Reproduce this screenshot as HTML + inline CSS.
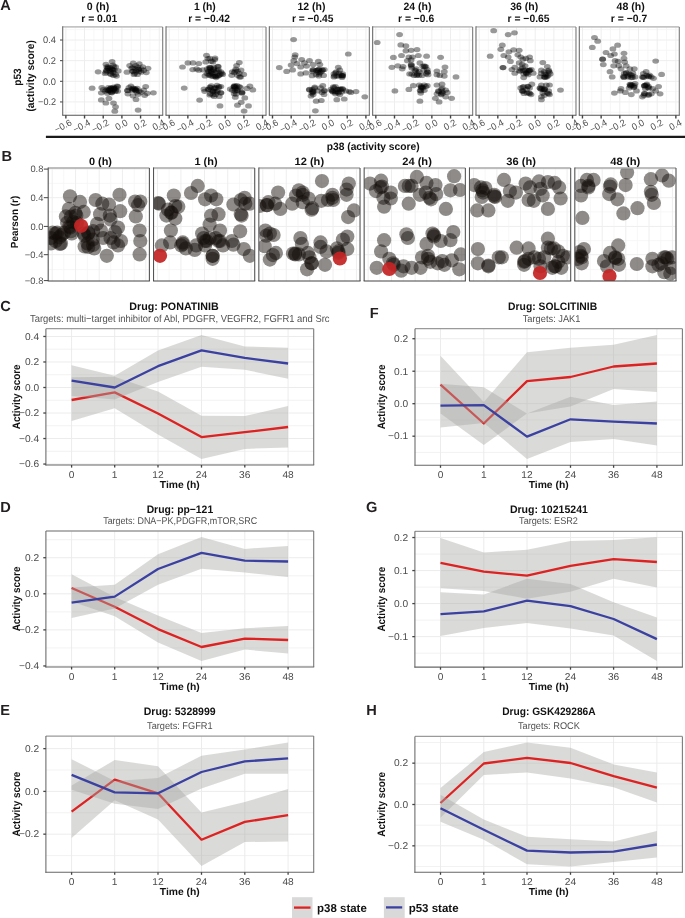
<!DOCTYPE html>
<html><head><meta charset="utf-8"><style>html,body{margin:0;padding:0;background:#fff;overflow:hidden}svg{display:block;will-change:transform;text-rendering:geometricPrecision;filter:blur(0.45px)}text{font-family:"Liberation Sans",sans-serif}</style></head>
<body><svg width="685" height="918" viewBox="0 0 685 918" font-family="Liberation Sans, sans-serif"><g>
<line x1="45.90" y1="349.22" x2="313.70" y2="349.22" stroke="#f1f1f1" stroke-width="0.9"/>
<line x1="45.90" y1="374.74" x2="313.70" y2="374.74" stroke="#f1f1f1" stroke-width="0.9"/>
<line x1="45.90" y1="400.26" x2="313.70" y2="400.26" stroke="#f1f1f1" stroke-width="0.9"/>
<line x1="45.90" y1="425.78" x2="313.70" y2="425.78" stroke="#f1f1f1" stroke-width="0.9"/>
<line x1="45.90" y1="451.30" x2="313.70" y2="451.30" stroke="#f1f1f1" stroke-width="0.9"/>
<line x1="45.90" y1="336.46" x2="313.70" y2="336.46" stroke="#ececec" stroke-width="1.0"/>
<line x1="45.90" y1="361.98" x2="313.70" y2="361.98" stroke="#ececec" stroke-width="1.0"/>
<line x1="45.90" y1="387.50" x2="313.70" y2="387.50" stroke="#ececec" stroke-width="1.0"/>
<line x1="45.90" y1="413.02" x2="313.70" y2="413.02" stroke="#ececec" stroke-width="1.0"/>
<line x1="45.90" y1="438.54" x2="313.70" y2="438.54" stroke="#ececec" stroke-width="1.0"/>
<line x1="45.90" y1="464.06" x2="313.70" y2="464.06" stroke="#ececec" stroke-width="1.0"/>
<line x1="71.60" y1="328.70" x2="71.60" y2="465.00" stroke="#ececec" stroke-width="1.0"/>
<line x1="114.70" y1="328.70" x2="114.70" y2="465.00" stroke="#ececec" stroke-width="1.0"/>
<line x1="158.00" y1="328.70" x2="158.00" y2="465.00" stroke="#ececec" stroke-width="1.0"/>
<line x1="201.50" y1="328.70" x2="201.50" y2="465.00" stroke="#ececec" stroke-width="1.0"/>
<line x1="244.80" y1="328.70" x2="244.80" y2="465.00" stroke="#ececec" stroke-width="1.0"/>
<line x1="288.10" y1="328.70" x2="288.10" y2="465.00" stroke="#ececec" stroke-width="1.0"/>
<polygon points="71.60,377.20 114.70,376.70 158.00,391.60 201.50,415.70 244.80,416.10 288.10,405.90 288.10,447.60 244.80,448.90 201.50,459.00 158.00,434.50 114.70,408.20 71.60,421.00" fill="#a8a6a4" fill-opacity="0.42"/>
<polyline points="71.60,400.00 114.70,392.40 158.00,413.50 201.50,437.10 244.80,432.20 288.10,427.00" fill="none" stroke="#dd2222" stroke-width="2.3" stroke-linejoin="round"/>
<polygon points="71.60,365.30 114.70,375.80 158.00,350.40 201.50,335.00 244.80,346.40 288.10,347.80 288.10,378.80 244.80,369.70 201.50,366.70 158.00,381.90 114.70,399.50 71.60,396.00" fill="#a8a6a4" fill-opacity="0.42"/>
<polyline points="71.60,380.70 114.70,387.50 158.00,366.20 201.50,350.40 244.80,357.90 288.10,363.50" fill="none" stroke="#3b41a0" stroke-width="2.3" stroke-linejoin="round"/>
<line x1="45.90" y1="328.70" x2="313.70" y2="328.70" stroke="#9a9a9a" stroke-width="1.3"/>
<line x1="313.70" y1="328.70" x2="313.70" y2="465.00" stroke="#7a7a7a" stroke-width="1.1"/>
<line x1="45.90" y1="328.70" x2="45.90" y2="465.50" stroke="#666" stroke-width="1.05"/>
<line x1="45.40" y1="465.00" x2="314.20" y2="465.00" stroke="#666" stroke-width="1.05"/>
<line x1="43.30" y1="336.46" x2="45.90" y2="336.46" stroke="#444" stroke-width="1.3"/>
<text x="24.93" y="339.76" font-size="9.9" font-weight="normal" fill="#4d4d4d" textLength="14.17" lengthAdjust="spacingAndGlyphs">0.4</text>
<line x1="43.30" y1="361.98" x2="45.90" y2="361.98" stroke="#444" stroke-width="1.3"/>
<text x="24.93" y="365.28" font-size="9.9" font-weight="normal" fill="#4d4d4d" textLength="14.17" lengthAdjust="spacingAndGlyphs">0.2</text>
<line x1="43.30" y1="387.50" x2="45.90" y2="387.50" stroke="#444" stroke-width="1.3"/>
<text x="24.93" y="390.80" font-size="9.9" font-weight="normal" fill="#4d4d4d" textLength="14.17" lengthAdjust="spacingAndGlyphs">0.0</text>
<line x1="43.30" y1="413.02" x2="45.90" y2="413.02" stroke="#444" stroke-width="1.3"/>
<text x="18.97" y="416.32" font-size="9.9" font-weight="normal" fill="#4d4d4d" textLength="20.13" lengthAdjust="spacingAndGlyphs">−0.2</text>
<line x1="43.30" y1="438.54" x2="45.90" y2="438.54" stroke="#444" stroke-width="1.3"/>
<text x="18.97" y="441.84" font-size="9.9" font-weight="normal" fill="#4d4d4d" textLength="20.13" lengthAdjust="spacingAndGlyphs">−0.4</text>
<line x1="43.30" y1="464.06" x2="45.90" y2="464.06" stroke="#444" stroke-width="1.3"/>
<text x="18.97" y="467.36" font-size="9.9" font-weight="normal" fill="#4d4d4d" textLength="20.13" lengthAdjust="spacingAndGlyphs">−0.6</text>
<line x1="71.60" y1="465.00" x2="71.60" y2="467.60" stroke="#444" stroke-width="1.3"/>
<text x="68.76" y="477.80" font-size="9.9" font-weight="normal" fill="#4d4d4d" textLength="5.67" lengthAdjust="spacingAndGlyphs">0</text>
<line x1="114.70" y1="465.00" x2="114.70" y2="467.60" stroke="#444" stroke-width="1.3"/>
<text x="111.86" y="477.80" font-size="9.9" font-weight="normal" fill="#4d4d4d" textLength="5.67" lengthAdjust="spacingAndGlyphs">1</text>
<line x1="158.00" y1="465.00" x2="158.00" y2="467.60" stroke="#444" stroke-width="1.3"/>
<text x="152.33" y="477.80" font-size="9.9" font-weight="normal" fill="#4d4d4d" textLength="11.34" lengthAdjust="spacingAndGlyphs">12</text>
<line x1="201.50" y1="465.00" x2="201.50" y2="467.60" stroke="#444" stroke-width="1.3"/>
<text x="195.83" y="477.80" font-size="9.9" font-weight="normal" fill="#4d4d4d" textLength="11.34" lengthAdjust="spacingAndGlyphs">24</text>
<line x1="244.80" y1="465.00" x2="244.80" y2="467.60" stroke="#444" stroke-width="1.3"/>
<text x="239.13" y="477.80" font-size="9.9" font-weight="normal" fill="#4d4d4d" textLength="11.34" lengthAdjust="spacingAndGlyphs">36</text>
<line x1="288.10" y1="465.00" x2="288.10" y2="467.60" stroke="#444" stroke-width="1.3"/>
<text x="282.43" y="477.80" font-size="9.9" font-weight="normal" fill="#4d4d4d" textLength="11.34" lengthAdjust="spacingAndGlyphs">48</text>
<text x="159.80" y="488.20" font-size="10.2" font-weight="bold" fill="#111" textLength="40.00" lengthAdjust="spacingAndGlyphs">Time (h)</text>
<text transform="translate(19.50,396.85) rotate(-90)" x="-32.40" y="0" font-size="10.8" font-weight="bold" fill="#111" textLength="64.80" lengthAdjust="spacingAndGlyphs">Activity score</text>
<text x="129.25" y="310.30" font-size="10.8" font-weight="bold" fill="#111" textLength="89.50" lengthAdjust="spacingAndGlyphs">Drug: PONATINIB</text>
<text x="30.05" y="322.00" font-size="10.2" font-weight="normal" fill="#505050" textLength="299.50" lengthAdjust="spacingAndGlyphs">Targets: multi−target inhibitor of Abl, PDGFR, VEGFR2, FGFR1 and Src</text>
</g>
<g>
<line x1="415.00" y1="354.96" x2="682.40" y2="354.96" stroke="#f1f1f1" stroke-width="0.9"/>
<line x1="415.00" y1="387.45" x2="682.40" y2="387.45" stroke="#f1f1f1" stroke-width="0.9"/>
<line x1="415.00" y1="419.94" x2="682.40" y2="419.94" stroke="#f1f1f1" stroke-width="0.9"/>
<line x1="415.00" y1="452.44" x2="682.40" y2="452.44" stroke="#f1f1f1" stroke-width="0.9"/>
<line x1="415.00" y1="338.72" x2="682.40" y2="338.72" stroke="#ececec" stroke-width="1.0"/>
<line x1="415.00" y1="371.21" x2="682.40" y2="371.21" stroke="#ececec" stroke-width="1.0"/>
<line x1="415.00" y1="403.70" x2="682.40" y2="403.70" stroke="#ececec" stroke-width="1.0"/>
<line x1="415.00" y1="436.19" x2="682.40" y2="436.19" stroke="#ececec" stroke-width="1.0"/>
<line x1="440.50" y1="328.70" x2="440.50" y2="465.20" stroke="#ececec" stroke-width="1.0"/>
<line x1="483.80" y1="328.70" x2="483.80" y2="465.20" stroke="#ececec" stroke-width="1.0"/>
<line x1="527.00" y1="328.70" x2="527.00" y2="465.20" stroke="#ececec" stroke-width="1.0"/>
<line x1="570.50" y1="328.70" x2="570.50" y2="465.20" stroke="#ececec" stroke-width="1.0"/>
<line x1="613.60" y1="328.70" x2="613.60" y2="465.20" stroke="#ececec" stroke-width="1.0"/>
<line x1="656.90" y1="328.70" x2="656.90" y2="465.20" stroke="#ececec" stroke-width="1.0"/>
<polygon points="440.50,355.70 483.80,402.10 527.00,352.20 570.50,347.80 613.60,344.80 656.90,335.00 656.90,391.90 613.60,389.00 570.50,406.50 527.00,413.50 483.80,445.00 440.50,413.50" fill="#a8a6a4" fill-opacity="0.42"/>
<polyline points="440.50,384.60 483.80,423.50 527.00,381.10 570.50,377.00 613.60,366.50 656.90,363.50" fill="none" stroke="#dd2222" stroke-width="2.3" stroke-linejoin="round"/>
<polygon points="440.50,383.70 483.80,387.20 527.00,413.50 570.50,396.80 613.60,405.10 656.90,401.60 656.90,445.40 613.60,438.90 570.50,442.00 527.00,459.00 483.80,423.10 440.50,427.50" fill="#a8a6a4" fill-opacity="0.42"/>
<polyline points="440.50,405.60 483.80,405.10 527.00,436.60 570.50,419.30 613.60,421.70 656.90,423.50" fill="none" stroke="#3b41a0" stroke-width="2.3" stroke-linejoin="round"/>
<line x1="415.00" y1="328.70" x2="682.40" y2="328.70" stroke="#9a9a9a" stroke-width="1.3"/>
<line x1="682.40" y1="328.70" x2="682.40" y2="465.20" stroke="#7a7a7a" stroke-width="1.1"/>
<line x1="415.00" y1="328.70" x2="415.00" y2="465.70" stroke="#666" stroke-width="1.05"/>
<line x1="414.50" y1="465.20" x2="682.90" y2="465.20" stroke="#666" stroke-width="1.05"/>
<line x1="412.40" y1="338.72" x2="415.00" y2="338.72" stroke="#444" stroke-width="1.3"/>
<text x="394.03" y="342.02" font-size="9.9" font-weight="normal" fill="#4d4d4d" textLength="14.17" lengthAdjust="spacingAndGlyphs">0.2</text>
<line x1="412.40" y1="371.21" x2="415.00" y2="371.21" stroke="#444" stroke-width="1.3"/>
<text x="394.03" y="374.51" font-size="9.9" font-weight="normal" fill="#4d4d4d" textLength="14.17" lengthAdjust="spacingAndGlyphs">0.1</text>
<line x1="412.40" y1="403.70" x2="415.00" y2="403.70" stroke="#444" stroke-width="1.3"/>
<text x="394.03" y="407.00" font-size="9.9" font-weight="normal" fill="#4d4d4d" textLength="14.17" lengthAdjust="spacingAndGlyphs">0.0</text>
<line x1="412.40" y1="436.19" x2="415.00" y2="436.19" stroke="#444" stroke-width="1.3"/>
<text x="388.07" y="439.49" font-size="9.9" font-weight="normal" fill="#4d4d4d" textLength="20.13" lengthAdjust="spacingAndGlyphs">−0.1</text>
<line x1="440.50" y1="465.20" x2="440.50" y2="467.80" stroke="#444" stroke-width="1.3"/>
<text x="437.66" y="478.00" font-size="9.9" font-weight="normal" fill="#4d4d4d" textLength="5.67" lengthAdjust="spacingAndGlyphs">0</text>
<line x1="483.80" y1="465.20" x2="483.80" y2="467.80" stroke="#444" stroke-width="1.3"/>
<text x="480.96" y="478.00" font-size="9.9" font-weight="normal" fill="#4d4d4d" textLength="5.67" lengthAdjust="spacingAndGlyphs">1</text>
<line x1="527.00" y1="465.20" x2="527.00" y2="467.80" stroke="#444" stroke-width="1.3"/>
<text x="521.33" y="478.00" font-size="9.9" font-weight="normal" fill="#4d4d4d" textLength="11.34" lengthAdjust="spacingAndGlyphs">12</text>
<line x1="570.50" y1="465.20" x2="570.50" y2="467.80" stroke="#444" stroke-width="1.3"/>
<text x="564.83" y="478.00" font-size="9.9" font-weight="normal" fill="#4d4d4d" textLength="11.34" lengthAdjust="spacingAndGlyphs">24</text>
<line x1="613.60" y1="465.20" x2="613.60" y2="467.80" stroke="#444" stroke-width="1.3"/>
<text x="607.93" y="478.00" font-size="9.9" font-weight="normal" fill="#4d4d4d" textLength="11.34" lengthAdjust="spacingAndGlyphs">36</text>
<line x1="656.90" y1="465.20" x2="656.90" y2="467.80" stroke="#444" stroke-width="1.3"/>
<text x="651.23" y="478.00" font-size="9.9" font-weight="normal" fill="#4d4d4d" textLength="11.34" lengthAdjust="spacingAndGlyphs">48</text>
<text x="528.70" y="488.40" font-size="10.2" font-weight="bold" fill="#111" textLength="40.00" lengthAdjust="spacingAndGlyphs">Time (h)</text>
<text transform="translate(385.20,396.95) rotate(-90)" x="-32.40" y="0" font-size="10.8" font-weight="bold" fill="#111" textLength="64.80" lengthAdjust="spacingAndGlyphs">Activity score</text>
<text x="508.10" y="310.30" font-size="10.8" font-weight="bold" fill="#111" textLength="89.00" lengthAdjust="spacingAndGlyphs">Drug: SOLCITINIB</text>
<text x="522.70" y="322.00" font-size="9.8" font-weight="normal" fill="#505050" textLength="57.80" lengthAdjust="spacingAndGlyphs">Targets: JAK1</text>
</g>
<g>
<line x1="45.90" y1="539.68" x2="313.70" y2="539.68" stroke="#f1f1f1" stroke-width="0.9"/>
<line x1="45.90" y1="575.76" x2="313.70" y2="575.76" stroke="#f1f1f1" stroke-width="0.9"/>
<line x1="45.90" y1="611.84" x2="313.70" y2="611.84" stroke="#f1f1f1" stroke-width="0.9"/>
<line x1="45.90" y1="647.92" x2="313.70" y2="647.92" stroke="#f1f1f1" stroke-width="0.9"/>
<line x1="45.90" y1="557.72" x2="313.70" y2="557.72" stroke="#ececec" stroke-width="1.0"/>
<line x1="45.90" y1="593.80" x2="313.70" y2="593.80" stroke="#ececec" stroke-width="1.0"/>
<line x1="45.90" y1="629.88" x2="313.70" y2="629.88" stroke="#ececec" stroke-width="1.0"/>
<line x1="45.90" y1="665.96" x2="313.70" y2="665.96" stroke="#ececec" stroke-width="1.0"/>
<line x1="71.60" y1="531.00" x2="71.60" y2="666.90" stroke="#ececec" stroke-width="1.0"/>
<line x1="114.70" y1="531.00" x2="114.70" y2="666.90" stroke="#ececec" stroke-width="1.0"/>
<line x1="158.00" y1="531.00" x2="158.00" y2="666.90" stroke="#ececec" stroke-width="1.0"/>
<line x1="201.50" y1="531.00" x2="201.50" y2="666.90" stroke="#ececec" stroke-width="1.0"/>
<line x1="244.80" y1="531.00" x2="244.80" y2="666.90" stroke="#ececec" stroke-width="1.0"/>
<line x1="288.10" y1="531.00" x2="288.10" y2="666.90" stroke="#ececec" stroke-width="1.0"/>
<polygon points="71.60,574.30 114.70,597.10 158.00,615.50 201.50,633.00 244.80,628.30 288.10,626.00 288.10,653.50 244.80,649.60 201.50,661.00 158.00,642.60 114.70,616.30 71.60,601.60" fill="#a8a6a4" fill-opacity="0.42"/>
<polyline points="71.60,588.00 114.70,606.70 158.00,629.10 201.50,647.00 244.80,638.60 288.10,640.00" fill="none" stroke="#dd2222" stroke-width="2.3" stroke-linejoin="round"/>
<polygon points="71.60,587.40 114.70,584.80 158.00,554.20 201.50,537.00 244.80,548.90 288.10,545.90 288.10,576.90 244.80,572.60 201.50,568.70 158.00,584.80 114.70,608.50 71.60,618.10" fill="#a8a6a4" fill-opacity="0.42"/>
<polyline points="71.60,602.70 114.70,596.60 158.00,569.00 201.50,552.90 244.80,560.60 288.10,561.50" fill="none" stroke="#3b41a0" stroke-width="2.3" stroke-linejoin="round"/>
<line x1="45.90" y1="531.00" x2="313.70" y2="531.00" stroke="#9a9a9a" stroke-width="1.3"/>
<line x1="313.70" y1="531.00" x2="313.70" y2="666.90" stroke="#7a7a7a" stroke-width="1.1"/>
<line x1="45.90" y1="531.00" x2="45.90" y2="667.40" stroke="#666" stroke-width="1.05"/>
<line x1="45.40" y1="666.90" x2="314.20" y2="666.90" stroke="#666" stroke-width="1.05"/>
<line x1="43.30" y1="557.72" x2="45.90" y2="557.72" stroke="#444" stroke-width="1.3"/>
<text x="24.93" y="561.02" font-size="9.9" font-weight="normal" fill="#4d4d4d" textLength="14.17" lengthAdjust="spacingAndGlyphs">0.2</text>
<line x1="43.30" y1="593.80" x2="45.90" y2="593.80" stroke="#444" stroke-width="1.3"/>
<text x="24.93" y="597.10" font-size="9.9" font-weight="normal" fill="#4d4d4d" textLength="14.17" lengthAdjust="spacingAndGlyphs">0.0</text>
<line x1="43.30" y1="629.88" x2="45.90" y2="629.88" stroke="#444" stroke-width="1.3"/>
<text x="18.97" y="633.18" font-size="9.9" font-weight="normal" fill="#4d4d4d" textLength="20.13" lengthAdjust="spacingAndGlyphs">−0.2</text>
<line x1="43.30" y1="665.96" x2="45.90" y2="665.96" stroke="#444" stroke-width="1.3"/>
<text x="18.97" y="669.26" font-size="9.9" font-weight="normal" fill="#4d4d4d" textLength="20.13" lengthAdjust="spacingAndGlyphs">−0.4</text>
<line x1="71.60" y1="666.90" x2="71.60" y2="669.50" stroke="#444" stroke-width="1.3"/>
<text x="68.76" y="679.70" font-size="9.9" font-weight="normal" fill="#4d4d4d" textLength="5.67" lengthAdjust="spacingAndGlyphs">0</text>
<line x1="114.70" y1="666.90" x2="114.70" y2="669.50" stroke="#444" stroke-width="1.3"/>
<text x="111.86" y="679.70" font-size="9.9" font-weight="normal" fill="#4d4d4d" textLength="5.67" lengthAdjust="spacingAndGlyphs">1</text>
<line x1="158.00" y1="666.90" x2="158.00" y2="669.50" stroke="#444" stroke-width="1.3"/>
<text x="152.33" y="679.70" font-size="9.9" font-weight="normal" fill="#4d4d4d" textLength="11.34" lengthAdjust="spacingAndGlyphs">12</text>
<line x1="201.50" y1="666.90" x2="201.50" y2="669.50" stroke="#444" stroke-width="1.3"/>
<text x="195.83" y="679.70" font-size="9.9" font-weight="normal" fill="#4d4d4d" textLength="11.34" lengthAdjust="spacingAndGlyphs">24</text>
<line x1="244.80" y1="666.90" x2="244.80" y2="669.50" stroke="#444" stroke-width="1.3"/>
<text x="239.13" y="679.70" font-size="9.9" font-weight="normal" fill="#4d4d4d" textLength="11.34" lengthAdjust="spacingAndGlyphs">36</text>
<line x1="288.10" y1="666.90" x2="288.10" y2="669.50" stroke="#444" stroke-width="1.3"/>
<text x="282.43" y="679.70" font-size="9.9" font-weight="normal" fill="#4d4d4d" textLength="11.34" lengthAdjust="spacingAndGlyphs">48</text>
<text x="159.80" y="690.10" font-size="10.2" font-weight="bold" fill="#111" textLength="40.00" lengthAdjust="spacingAndGlyphs">Time (h)</text>
<text transform="translate(19.50,598.95) rotate(-90)" x="-32.40" y="0" font-size="10.8" font-weight="bold" fill="#111" textLength="64.80" lengthAdjust="spacingAndGlyphs">Activity score</text>
<text x="146.65" y="512.50" font-size="10.8" font-weight="bold" fill="#111" textLength="66.50" lengthAdjust="spacingAndGlyphs">Drug: pp−121</text>
<text x="103.20" y="523.80" font-size="9.8" font-weight="normal" fill="#505050" textLength="154.00" lengthAdjust="spacingAndGlyphs">Targets: DNA−PK,PDGFR,mTOR,SRC</text>
</g>
<g>
<line x1="414.90" y1="554.06" x2="682.40" y2="554.06" stroke="#f1f1f1" stroke-width="0.9"/>
<line x1="414.90" y1="587.09" x2="682.40" y2="587.09" stroke="#f1f1f1" stroke-width="0.9"/>
<line x1="414.90" y1="620.12" x2="682.40" y2="620.12" stroke="#f1f1f1" stroke-width="0.9"/>
<line x1="414.90" y1="653.14" x2="682.40" y2="653.14" stroke="#f1f1f1" stroke-width="0.9"/>
<line x1="414.90" y1="537.54" x2="682.40" y2="537.54" stroke="#ececec" stroke-width="1.0"/>
<line x1="414.90" y1="570.57" x2="682.40" y2="570.57" stroke="#ececec" stroke-width="1.0"/>
<line x1="414.90" y1="603.60" x2="682.40" y2="603.60" stroke="#ececec" stroke-width="1.0"/>
<line x1="414.90" y1="636.63" x2="682.40" y2="636.63" stroke="#ececec" stroke-width="1.0"/>
<line x1="440.50" y1="531.30" x2="440.50" y2="667.10" stroke="#ececec" stroke-width="1.0"/>
<line x1="483.80" y1="531.30" x2="483.80" y2="667.10" stroke="#ececec" stroke-width="1.0"/>
<line x1="527.00" y1="531.30" x2="527.00" y2="667.10" stroke="#ececec" stroke-width="1.0"/>
<line x1="570.50" y1="531.30" x2="570.50" y2="667.10" stroke="#ececec" stroke-width="1.0"/>
<line x1="613.60" y1="531.30" x2="613.60" y2="667.10" stroke="#ececec" stroke-width="1.0"/>
<line x1="656.90" y1="531.30" x2="656.90" y2="667.10" stroke="#ececec" stroke-width="1.0"/>
<polygon points="440.50,537.90 483.80,552.40 527.00,549.80 570.50,541.00 613.60,540.10 656.90,537.20 656.90,587.40 613.60,578.70 570.50,591.80 527.00,598.80 483.80,591.00 440.50,588.30" fill="#a8a6a4" fill-opacity="0.42"/>
<polyline points="440.50,562.90 483.80,571.70 527.00,575.70 570.50,565.90 613.60,559.10 656.90,562.00" fill="none" stroke="#dd2222" stroke-width="2.3" stroke-linejoin="round"/>
<polygon points="440.50,592.20 483.80,594.40 527.00,578.70 570.50,583.90 613.60,602.30 656.90,617.60 656.90,661.00 613.60,635.60 570.50,628.60 527.00,623.00 483.80,628.10 440.50,636.00" fill="#a8a6a4" fill-opacity="0.42"/>
<polyline points="440.50,614.10 483.80,611.40 527.00,600.60 570.50,606.20 613.60,619.00 656.90,639.10" fill="none" stroke="#3b41a0" stroke-width="2.3" stroke-linejoin="round"/>
<line x1="414.90" y1="531.30" x2="682.40" y2="531.30" stroke="#9a9a9a" stroke-width="1.3"/>
<line x1="682.40" y1="531.30" x2="682.40" y2="667.10" stroke="#7a7a7a" stroke-width="1.1"/>
<line x1="414.90" y1="531.30" x2="414.90" y2="667.60" stroke="#666" stroke-width="1.05"/>
<line x1="414.40" y1="667.10" x2="682.90" y2="667.10" stroke="#666" stroke-width="1.05"/>
<line x1="412.30" y1="537.54" x2="414.90" y2="537.54" stroke="#444" stroke-width="1.3"/>
<text x="393.93" y="540.84" font-size="9.9" font-weight="normal" fill="#4d4d4d" textLength="14.17" lengthAdjust="spacingAndGlyphs">0.2</text>
<line x1="412.30" y1="570.57" x2="414.90" y2="570.57" stroke="#444" stroke-width="1.3"/>
<text x="393.93" y="573.87" font-size="9.9" font-weight="normal" fill="#4d4d4d" textLength="14.17" lengthAdjust="spacingAndGlyphs">0.1</text>
<line x1="412.30" y1="603.60" x2="414.90" y2="603.60" stroke="#444" stroke-width="1.3"/>
<text x="393.93" y="606.90" font-size="9.9" font-weight="normal" fill="#4d4d4d" textLength="14.17" lengthAdjust="spacingAndGlyphs">0.0</text>
<line x1="412.30" y1="636.63" x2="414.90" y2="636.63" stroke="#444" stroke-width="1.3"/>
<text x="387.97" y="639.93" font-size="9.9" font-weight="normal" fill="#4d4d4d" textLength="20.13" lengthAdjust="spacingAndGlyphs">−0.1</text>
<line x1="440.50" y1="667.10" x2="440.50" y2="669.70" stroke="#444" stroke-width="1.3"/>
<text x="437.66" y="679.90" font-size="9.9" font-weight="normal" fill="#4d4d4d" textLength="5.67" lengthAdjust="spacingAndGlyphs">0</text>
<line x1="483.80" y1="667.10" x2="483.80" y2="669.70" stroke="#444" stroke-width="1.3"/>
<text x="480.96" y="679.90" font-size="9.9" font-weight="normal" fill="#4d4d4d" textLength="5.67" lengthAdjust="spacingAndGlyphs">1</text>
<line x1="527.00" y1="667.10" x2="527.00" y2="669.70" stroke="#444" stroke-width="1.3"/>
<text x="521.33" y="679.90" font-size="9.9" font-weight="normal" fill="#4d4d4d" textLength="11.34" lengthAdjust="spacingAndGlyphs">12</text>
<line x1="570.50" y1="667.10" x2="570.50" y2="669.70" stroke="#444" stroke-width="1.3"/>
<text x="564.83" y="679.90" font-size="9.9" font-weight="normal" fill="#4d4d4d" textLength="11.34" lengthAdjust="spacingAndGlyphs">24</text>
<line x1="613.60" y1="667.10" x2="613.60" y2="669.70" stroke="#444" stroke-width="1.3"/>
<text x="607.93" y="679.90" font-size="9.9" font-weight="normal" fill="#4d4d4d" textLength="11.34" lengthAdjust="spacingAndGlyphs">36</text>
<line x1="656.90" y1="667.10" x2="656.90" y2="669.70" stroke="#444" stroke-width="1.3"/>
<text x="651.23" y="679.90" font-size="9.9" font-weight="normal" fill="#4d4d4d" textLength="11.34" lengthAdjust="spacingAndGlyphs">48</text>
<text x="528.65" y="690.30" font-size="10.2" font-weight="bold" fill="#111" textLength="40.00" lengthAdjust="spacingAndGlyphs">Time (h)</text>
<text transform="translate(385.10,599.20) rotate(-90)" x="-32.40" y="0" font-size="10.8" font-weight="bold" fill="#111" textLength="64.80" lengthAdjust="spacingAndGlyphs">Activity score</text>
<text x="509.90" y="512.50" font-size="10.8" font-weight="bold" fill="#111" textLength="78.00" lengthAdjust="spacingAndGlyphs">Drug: 10215241</text>
<text x="519.10" y="524.00" font-size="9.8" font-weight="normal" fill="#505050" textLength="58.80" lengthAdjust="spacingAndGlyphs">Targets: ESR2</text>
</g>
<g>
<line x1="45.90" y1="770.02" x2="313.70" y2="770.02" stroke="#f1f1f1" stroke-width="0.9"/>
<line x1="45.90" y1="812.78" x2="313.70" y2="812.78" stroke="#f1f1f1" stroke-width="0.9"/>
<line x1="45.90" y1="855.54" x2="313.70" y2="855.54" stroke="#f1f1f1" stroke-width="0.9"/>
<line x1="45.90" y1="748.64" x2="313.70" y2="748.64" stroke="#ececec" stroke-width="1.0"/>
<line x1="45.90" y1="791.40" x2="313.70" y2="791.40" stroke="#ececec" stroke-width="1.0"/>
<line x1="45.90" y1="834.16" x2="313.70" y2="834.16" stroke="#ececec" stroke-width="1.0"/>
<line x1="71.60" y1="736.10" x2="71.60" y2="872.20" stroke="#ececec" stroke-width="1.0"/>
<line x1="114.70" y1="736.10" x2="114.70" y2="872.20" stroke="#ececec" stroke-width="1.0"/>
<line x1="158.00" y1="736.10" x2="158.00" y2="872.20" stroke="#ececec" stroke-width="1.0"/>
<line x1="201.50" y1="736.10" x2="201.50" y2="872.20" stroke="#ececec" stroke-width="1.0"/>
<line x1="244.80" y1="736.10" x2="244.80" y2="872.20" stroke="#ececec" stroke-width="1.0"/>
<line x1="288.10" y1="736.10" x2="288.10" y2="872.20" stroke="#ececec" stroke-width="1.0"/>
<polygon points="71.60,785.40 114.70,760.00 158.00,766.20 201.50,812.60 244.80,802.10 288.10,788.90 288.10,841.50 244.80,842.00 201.50,866.00 158.00,819.60 114.70,800.30 71.60,838.00" fill="#a8a6a4" fill-opacity="0.42"/>
<polyline points="71.60,811.70 114.70,779.70 158.00,793.30 201.50,839.70 244.80,821.90 288.10,815.20" fill="none" stroke="#dd2222" stroke-width="2.3" stroke-linejoin="round"/>
<polygon points="71.60,759.20 114.70,781.10 158.00,777.90 201.50,755.70 244.80,749.50 288.10,742.50 288.10,773.70 244.80,773.70 201.50,788.40 158.00,809.10 114.70,803.80 71.60,789.80" fill="#a8a6a4" fill-opacity="0.42"/>
<polyline points="71.60,774.90 114.70,792.40 158.00,793.30 201.50,772.00 244.80,761.40 288.10,758.30" fill="none" stroke="#3b41a0" stroke-width="2.3" stroke-linejoin="round"/>
<line x1="45.90" y1="736.10" x2="313.70" y2="736.10" stroke="#9a9a9a" stroke-width="1.3"/>
<line x1="313.70" y1="736.10" x2="313.70" y2="872.20" stroke="#7a7a7a" stroke-width="1.1"/>
<line x1="45.90" y1="736.10" x2="45.90" y2="872.70" stroke="#666" stroke-width="1.05"/>
<line x1="45.40" y1="872.20" x2="314.20" y2="872.20" stroke="#666" stroke-width="1.05"/>
<line x1="43.30" y1="748.64" x2="45.90" y2="748.64" stroke="#444" stroke-width="1.3"/>
<text x="24.93" y="751.94" font-size="9.9" font-weight="normal" fill="#4d4d4d" textLength="14.17" lengthAdjust="spacingAndGlyphs">0.2</text>
<line x1="43.30" y1="791.40" x2="45.90" y2="791.40" stroke="#444" stroke-width="1.3"/>
<text x="24.93" y="794.70" font-size="9.9" font-weight="normal" fill="#4d4d4d" textLength="14.17" lengthAdjust="spacingAndGlyphs">0.0</text>
<line x1="43.30" y1="834.16" x2="45.90" y2="834.16" stroke="#444" stroke-width="1.3"/>
<text x="18.97" y="837.46" font-size="9.9" font-weight="normal" fill="#4d4d4d" textLength="20.13" lengthAdjust="spacingAndGlyphs">−0.2</text>
<line x1="71.60" y1="872.20" x2="71.60" y2="874.80" stroke="#444" stroke-width="1.3"/>
<text x="68.76" y="885.00" font-size="9.9" font-weight="normal" fill="#4d4d4d" textLength="5.67" lengthAdjust="spacingAndGlyphs">0</text>
<line x1="114.70" y1="872.20" x2="114.70" y2="874.80" stroke="#444" stroke-width="1.3"/>
<text x="111.86" y="885.00" font-size="9.9" font-weight="normal" fill="#4d4d4d" textLength="5.67" lengthAdjust="spacingAndGlyphs">1</text>
<line x1="158.00" y1="872.20" x2="158.00" y2="874.80" stroke="#444" stroke-width="1.3"/>
<text x="152.33" y="885.00" font-size="9.9" font-weight="normal" fill="#4d4d4d" textLength="11.34" lengthAdjust="spacingAndGlyphs">12</text>
<line x1="201.50" y1="872.20" x2="201.50" y2="874.80" stroke="#444" stroke-width="1.3"/>
<text x="195.83" y="885.00" font-size="9.9" font-weight="normal" fill="#4d4d4d" textLength="11.34" lengthAdjust="spacingAndGlyphs">24</text>
<line x1="244.80" y1="872.20" x2="244.80" y2="874.80" stroke="#444" stroke-width="1.3"/>
<text x="239.13" y="885.00" font-size="9.9" font-weight="normal" fill="#4d4d4d" textLength="11.34" lengthAdjust="spacingAndGlyphs">36</text>
<line x1="288.10" y1="872.20" x2="288.10" y2="874.80" stroke="#444" stroke-width="1.3"/>
<text x="282.43" y="885.00" font-size="9.9" font-weight="normal" fill="#4d4d4d" textLength="11.34" lengthAdjust="spacingAndGlyphs">48</text>
<text x="159.80" y="895.40" font-size="10.2" font-weight="bold" fill="#111" textLength="40.00" lengthAdjust="spacingAndGlyphs">Time (h)</text>
<text transform="translate(19.50,804.15) rotate(-90)" x="-32.40" y="0" font-size="10.8" font-weight="bold" fill="#111" textLength="64.80" lengthAdjust="spacingAndGlyphs">Activity score</text>
<text x="143.70" y="715.30" font-size="10.8" font-weight="bold" fill="#111" textLength="72.00" lengthAdjust="spacingAndGlyphs">Drug: 5328999</text>
<text x="147.05" y="729.00" font-size="9.8" font-weight="normal" fill="#505050" textLength="65.50" lengthAdjust="spacingAndGlyphs">Targets: FGFR1</text>
</g>
<g>
<line x1="414.90" y1="742.49" x2="682.40" y2="742.49" stroke="#f1f1f1" stroke-width="0.9"/>
<line x1="414.90" y1="783.83" x2="682.40" y2="783.83" stroke="#f1f1f1" stroke-width="0.9"/>
<line x1="414.90" y1="825.17" x2="682.40" y2="825.17" stroke="#f1f1f1" stroke-width="0.9"/>
<line x1="414.90" y1="866.51" x2="682.40" y2="866.51" stroke="#f1f1f1" stroke-width="0.9"/>
<line x1="414.90" y1="763.16" x2="682.40" y2="763.16" stroke="#ececec" stroke-width="1.0"/>
<line x1="414.90" y1="804.50" x2="682.40" y2="804.50" stroke="#ececec" stroke-width="1.0"/>
<line x1="414.90" y1="845.84" x2="682.40" y2="845.84" stroke="#ececec" stroke-width="1.0"/>
<line x1="440.50" y1="736.40" x2="440.50" y2="872.20" stroke="#ececec" stroke-width="1.0"/>
<line x1="483.80" y1="736.40" x2="483.80" y2="872.20" stroke="#ececec" stroke-width="1.0"/>
<line x1="527.00" y1="736.40" x2="527.00" y2="872.20" stroke="#ececec" stroke-width="1.0"/>
<line x1="570.50" y1="736.40" x2="570.50" y2="872.20" stroke="#ececec" stroke-width="1.0"/>
<line x1="613.60" y1="736.40" x2="613.60" y2="872.20" stroke="#ececec" stroke-width="1.0"/>
<line x1="656.90" y1="736.40" x2="656.90" y2="872.20" stroke="#ececec" stroke-width="1.0"/>
<polygon points="440.50,788.10 483.80,752.10 527.00,742.50 570.50,747.80 613.60,764.40 656.90,772.60 656.90,802.40 613.60,787.20 570.50,778.40 527.00,772.60 483.80,774.90 440.50,817.80" fill="#a8a6a4" fill-opacity="0.42"/>
<polyline points="440.50,803.00 483.80,763.50 527.00,757.90 570.50,763.00 613.60,776.10 656.90,787.70" fill="none" stroke="#dd2222" stroke-width="2.3" stroke-linejoin="round"/>
<polygon points="440.50,794.70 483.80,819.60 527.00,836.80 570.50,839.20 613.60,841.50 656.90,831.00 656.90,857.60 613.60,862.00 570.50,866.50 527.00,864.30 483.80,839.70 440.50,821.70" fill="#a8a6a4" fill-opacity="0.42"/>
<polyline points="440.50,808.20 483.80,829.80 527.00,850.60 570.50,852.50 613.60,851.70 656.90,844.50" fill="none" stroke="#3b41a0" stroke-width="2.3" stroke-linejoin="round"/>
<line x1="414.90" y1="736.40" x2="682.40" y2="736.40" stroke="#9a9a9a" stroke-width="1.3"/>
<line x1="682.40" y1="736.40" x2="682.40" y2="872.20" stroke="#7a7a7a" stroke-width="1.1"/>
<line x1="414.90" y1="736.40" x2="414.90" y2="872.70" stroke="#666" stroke-width="1.05"/>
<line x1="414.40" y1="872.20" x2="682.90" y2="872.20" stroke="#666" stroke-width="1.05"/>
<line x1="412.30" y1="763.16" x2="414.90" y2="763.16" stroke="#444" stroke-width="1.3"/>
<text x="393.93" y="766.46" font-size="9.9" font-weight="normal" fill="#4d4d4d" textLength="14.17" lengthAdjust="spacingAndGlyphs">0.2</text>
<line x1="412.30" y1="804.50" x2="414.90" y2="804.50" stroke="#444" stroke-width="1.3"/>
<text x="393.93" y="807.80" font-size="9.9" font-weight="normal" fill="#4d4d4d" textLength="14.17" lengthAdjust="spacingAndGlyphs">0.0</text>
<line x1="412.30" y1="845.84" x2="414.90" y2="845.84" stroke="#444" stroke-width="1.3"/>
<text x="387.97" y="849.14" font-size="9.9" font-weight="normal" fill="#4d4d4d" textLength="20.13" lengthAdjust="spacingAndGlyphs">−0.2</text>
<line x1="440.50" y1="872.20" x2="440.50" y2="874.80" stroke="#444" stroke-width="1.3"/>
<text x="437.66" y="885.00" font-size="9.9" font-weight="normal" fill="#4d4d4d" textLength="5.67" lengthAdjust="spacingAndGlyphs">0</text>
<line x1="483.80" y1="872.20" x2="483.80" y2="874.80" stroke="#444" stroke-width="1.3"/>
<text x="480.96" y="885.00" font-size="9.9" font-weight="normal" fill="#4d4d4d" textLength="5.67" lengthAdjust="spacingAndGlyphs">1</text>
<line x1="527.00" y1="872.20" x2="527.00" y2="874.80" stroke="#444" stroke-width="1.3"/>
<text x="521.33" y="885.00" font-size="9.9" font-weight="normal" fill="#4d4d4d" textLength="11.34" lengthAdjust="spacingAndGlyphs">12</text>
<line x1="570.50" y1="872.20" x2="570.50" y2="874.80" stroke="#444" stroke-width="1.3"/>
<text x="564.83" y="885.00" font-size="9.9" font-weight="normal" fill="#4d4d4d" textLength="11.34" lengthAdjust="spacingAndGlyphs">24</text>
<line x1="613.60" y1="872.20" x2="613.60" y2="874.80" stroke="#444" stroke-width="1.3"/>
<text x="607.93" y="885.00" font-size="9.9" font-weight="normal" fill="#4d4d4d" textLength="11.34" lengthAdjust="spacingAndGlyphs">36</text>
<line x1="656.90" y1="872.20" x2="656.90" y2="874.80" stroke="#444" stroke-width="1.3"/>
<text x="651.23" y="885.00" font-size="9.9" font-weight="normal" fill="#4d4d4d" textLength="11.34" lengthAdjust="spacingAndGlyphs">48</text>
<text x="528.65" y="895.40" font-size="10.2" font-weight="bold" fill="#111" textLength="40.00" lengthAdjust="spacingAndGlyphs">Time (h)</text>
<text transform="translate(385.10,804.30) rotate(-90)" x="-32.40" y="0" font-size="10.8" font-weight="bold" fill="#111" textLength="64.80" lengthAdjust="spacingAndGlyphs">Activity score</text>
<text x="502.15" y="715.40" font-size="10.8" font-weight="bold" fill="#111" textLength="93.50" lengthAdjust="spacingAndGlyphs">Drug: GSK429286A</text>
<text x="517.95" y="729.40" font-size="9.8" font-weight="normal" fill="#505050" textLength="61.90" lengthAdjust="spacingAndGlyphs">Targets: ROCK</text>
</g>
<text x="0.2" y="310.6" font-size="14.6" font-weight="bold" fill="#231f20">C</text>
<text x="0.2" y="512.3" font-size="14.6" font-weight="bold" fill="#231f20">D</text>
<text x="0.2" y="715.0" font-size="14.6" font-weight="bold" fill="#231f20">E</text>
<text x="369.8" y="317.8" font-size="14.6" font-weight="bold" fill="#231f20">F</text>
<text x="366.0" y="512.3" font-size="14.6" font-weight="bold" fill="#231f20">G</text>
<text x="366.3" y="714.9" font-size="14.6" font-weight="bold" fill="#231f20">H</text>
<text x="0.2" y="10.1" font-size="14.6" font-weight="bold" fill="#231f20">A</text>
<text x="1.4" y="160.6" font-size="14.6" font-weight="bold" fill="#231f20">B</text>
<rect x="292" y="897.2" width="20.5" height="21" fill="#d9d9d9"/>
<line x1="294.00" y1="907.60" x2="310.50" y2="907.60" stroke="#dd2222" stroke-width="2.3"/>
<text x="317.10" y="911.70" font-size="11.6" font-weight="bold" fill="#111" textLength="49.70" lengthAdjust="spacingAndGlyphs">p38 state</text>
<rect x="383.9" y="897.2" width="20.8" height="21" fill="#d9d9d9"/>
<line x1="386.00" y1="907.40" x2="402.20" y2="907.40" stroke="#3b41a0" stroke-width="2.3"/>
<text x="408.70" y="911.60" font-size="11.6" font-weight="bold" fill="#111" textLength="49.90" lengthAdjust="spacingAndGlyphs">p53 state</text>
<text x="86.80" y="9.90" font-size="10.6" font-weight="bold" fill="#111" textLength="22.40" lengthAdjust="spacingAndGlyphs">0 (h)</text>
<text x="81.20" y="21.60" font-size="10.6" font-weight="bold" fill="#111" textLength="36.20" lengthAdjust="spacingAndGlyphs">r = 0.01</text>
<text x="193.90" y="9.90" font-size="10.6" font-weight="bold" fill="#111" textLength="21.90" lengthAdjust="spacingAndGlyphs">1 (h)</text>
<text x="188.20" y="21.60" font-size="10.6" font-weight="bold" fill="#111" textLength="41.90" lengthAdjust="spacingAndGlyphs">r = −0.42</text>
<text x="297.40" y="9.90" font-size="10.6" font-weight="bold" fill="#111" textLength="28.00" lengthAdjust="spacingAndGlyphs">12 (h)</text>
<text x="291.90" y="21.60" font-size="10.6" font-weight="bold" fill="#111" textLength="41.60" lengthAdjust="spacingAndGlyphs">r = −0.45</text>
<text x="403.50" y="9.90" font-size="10.6" font-weight="bold" fill="#111" textLength="28.00" lengthAdjust="spacingAndGlyphs">24 (h)</text>
<text x="398.00" y="21.60" font-size="10.6" font-weight="bold" fill="#111" textLength="36.20" lengthAdjust="spacingAndGlyphs">r = −0.6</text>
<text x="510.20" y="9.90" font-size="10.6" font-weight="bold" fill="#111" textLength="28.00" lengthAdjust="spacingAndGlyphs">36 (h)</text>
<text x="507.60" y="21.60" font-size="10.6" font-weight="bold" fill="#111" textLength="41.90" lengthAdjust="spacingAndGlyphs">r = −0.65</text>
<text x="616.50" y="9.90" font-size="10.6" font-weight="bold" fill="#111" textLength="28.20" lengthAdjust="spacingAndGlyphs">48 (h)</text>
<text x="610.80" y="21.60" font-size="10.6" font-weight="bold" fill="#111" textLength="36.40" lengthAdjust="spacingAndGlyphs">r = −0.7</text>
<text x="43.10" y="43.32" font-size="9.6" font-weight="normal" fill="#4d4d4d" textLength="12.90" lengthAdjust="spacingAndGlyphs">0.4</text>
<text x="43.10" y="63.96" font-size="9.6" font-weight="normal" fill="#4d4d4d" textLength="12.90" lengthAdjust="spacingAndGlyphs">0.2</text>
<text x="43.10" y="84.60" font-size="9.6" font-weight="normal" fill="#4d4d4d" textLength="12.90" lengthAdjust="spacingAndGlyphs">0.0</text>
<text x="38.10" y="105.24" font-size="9.6" font-weight="normal" fill="#4d4d4d" textLength="17.90" lengthAdjust="spacingAndGlyphs">−0.2</text>
<text transform="translate(21.40,77.00) rotate(-90)" x="-8.65" y="0" font-size="10.6" font-weight="bold" fill="#111" textLength="17.30" lengthAdjust="spacingAndGlyphs">p53</text>
<text transform="translate(33.60,75.90) rotate(-90)" x="-35.65" y="0" font-size="10.6" font-weight="bold" fill="#111" textLength="71.30" lengthAdjust="spacingAndGlyphs">(activity score)</text>
<line x1="45.90" y1="136.90" x2="685.00" y2="136.90" stroke="#1a1a1a" stroke-width="2.1"/>
<text x="326.70" y="149.50" font-size="10.6" font-weight="bold" fill="#111" textLength="93.00" lengthAdjust="spacingAndGlyphs">p38 (activity score)</text>
<text x="88.90" y="165.20" font-size="10.6" font-weight="bold" fill="#111" textLength="23.10" lengthAdjust="spacingAndGlyphs">0 (h)</text>
<text x="194.50" y="165.20" font-size="10.6" font-weight="bold" fill="#111" textLength="23.10" lengthAdjust="spacingAndGlyphs">1 (h)</text>
<text x="294.50" y="165.20" font-size="10.6" font-weight="bold" fill="#111" textLength="29.60" lengthAdjust="spacingAndGlyphs">12 (h)</text>
<text x="402.20" y="165.20" font-size="10.6" font-weight="bold" fill="#111" textLength="29.70" lengthAdjust="spacingAndGlyphs">24 (h)</text>
<text x="506.30" y="165.20" font-size="10.6" font-weight="bold" fill="#111" textLength="29.70" lengthAdjust="spacingAndGlyphs">36 (h)</text>
<text x="610.30" y="165.20" font-size="10.6" font-weight="bold" fill="#111" textLength="30.00" lengthAdjust="spacingAndGlyphs">48 (h)</text>
<text x="30.40" y="172.30" font-size="9.4" font-weight="normal" fill="#4d4d4d" textLength="13.00" lengthAdjust="spacingAndGlyphs">0.8</text>
<text x="30.40" y="200.90" font-size="9.4" font-weight="normal" fill="#4d4d4d" textLength="13.00" lengthAdjust="spacingAndGlyphs">0.4</text>
<text x="30.40" y="229.60" font-size="9.4" font-weight="normal" fill="#4d4d4d" textLength="13.00" lengthAdjust="spacingAndGlyphs">0.0</text>
<text x="24.80" y="257.90" font-size="9.4" font-weight="normal" fill="#4d4d4d" textLength="18.60" lengthAdjust="spacingAndGlyphs">−0.4</text>
<text x="24.80" y="283.80" font-size="9.4" font-weight="normal" fill="#4d4d4d" textLength="18.60" lengthAdjust="spacingAndGlyphs">−0.8</text>
<text transform="translate(18.30,222.00) rotate(-90)" x="-26.25" y="0" font-size="10.3" font-weight="bold" fill="#111" textLength="52.50" lengthAdjust="spacingAndGlyphs">Pearson (r)</text>
<clipPath id="ca0"><rect x="62.70" y="26.90" width="100.00" height="88.30"/></clipPath>
<line x1="62.70" y1="29.70" x2="162.70" y2="29.70" stroke="#f6f6f6" stroke-width="0.9"/>
<line x1="62.70" y1="50.34" x2="162.70" y2="50.34" stroke="#f6f6f6" stroke-width="0.9"/>
<line x1="62.70" y1="70.98" x2="162.70" y2="70.98" stroke="#f6f6f6" stroke-width="0.9"/>
<line x1="62.70" y1="91.62" x2="162.70" y2="91.62" stroke="#f6f6f6" stroke-width="0.9"/>
<line x1="62.70" y1="112.26" x2="162.70" y2="112.26" stroke="#f6f6f6" stroke-width="0.9"/>
<line x1="75.20" y1="26.90" x2="75.20" y2="115.20" stroke="#f6f6f6" stroke-width="0.9"/>
<line x1="93.88" y1="26.90" x2="93.88" y2="115.20" stroke="#f6f6f6" stroke-width="0.9"/>
<line x1="112.56" y1="26.90" x2="112.56" y2="115.20" stroke="#f6f6f6" stroke-width="0.9"/>
<line x1="131.24" y1="26.90" x2="131.24" y2="115.20" stroke="#f6f6f6" stroke-width="0.9"/>
<line x1="149.92" y1="26.90" x2="149.92" y2="115.20" stroke="#f6f6f6" stroke-width="0.9"/>
<line x1="62.70" y1="40.02" x2="162.70" y2="40.02" stroke="#eeeeee" stroke-width="1"/>
<line x1="62.70" y1="60.66" x2="162.70" y2="60.66" stroke="#eeeeee" stroke-width="1"/>
<line x1="62.70" y1="81.30" x2="162.70" y2="81.30" stroke="#eeeeee" stroke-width="1"/>
<line x1="62.70" y1="101.94" x2="162.70" y2="101.94" stroke="#eeeeee" stroke-width="1"/>
<line x1="65.86" y1="26.90" x2="65.86" y2="115.20" stroke="#eeeeee" stroke-width="1"/>
<line x1="84.54" y1="26.90" x2="84.54" y2="115.20" stroke="#eeeeee" stroke-width="1"/>
<line x1="103.22" y1="26.90" x2="103.22" y2="115.20" stroke="#eeeeee" stroke-width="1"/>
<line x1="121.90" y1="26.90" x2="121.90" y2="115.20" stroke="#eeeeee" stroke-width="1"/>
<line x1="140.58" y1="26.90" x2="140.58" y2="115.20" stroke="#eeeeee" stroke-width="1"/>
<line x1="159.26" y1="26.90" x2="159.26" y2="115.20" stroke="#eeeeee" stroke-width="1"/>
<g clip-path="url(#ca0)" fill="#000" fill-opacity="0.4"><ellipse cx="112.1" cy="61.7" rx="3.4" ry="2.6"/><ellipse cx="106.0" cy="64.3" rx="3.4" ry="2.6"/><ellipse cx="98.1" cy="71.8" rx="3.4" ry="2.6"/><ellipse cx="108.2" cy="66.9" rx="3.4" ry="2.6"/><ellipse cx="113.0" cy="65.2" rx="3.4" ry="2.6"/><ellipse cx="115.6" cy="66.9" rx="3.4" ry="2.6"/><ellipse cx="118.3" cy="70.9" rx="3.4" ry="2.6"/><ellipse cx="106.0" cy="72.2" rx="3.4" ry="2.6"/><ellipse cx="109.5" cy="70.0" rx="3.4" ry="2.6"/><ellipse cx="113.0" cy="72.6" rx="3.4" ry="2.6"/><ellipse cx="115.6" cy="74.4" rx="3.4" ry="2.6"/><ellipse cx="116.5" cy="76.1" rx="3.4" ry="2.6"/><ellipse cx="110.4" cy="74.0" rx="3.4" ry="2.6"/><ellipse cx="105.1" cy="73.5" rx="3.4" ry="2.6"/><ellipse cx="108.2" cy="68.3" rx="3.4" ry="2.6"/><ellipse cx="114.3" cy="70.0" rx="3.4" ry="2.6"/><ellipse cx="133.2" cy="63.0" rx="3.4" ry="2.6"/><ellipse cx="139.3" cy="63.9" rx="3.4" ry="2.6"/><ellipse cx="129.7" cy="65.6" rx="3.4" ry="2.6"/><ellipse cx="148.0" cy="68.3" rx="3.4" ry="2.6"/><ellipse cx="127.0" cy="72.2" rx="3.4" ry="2.6"/><ellipse cx="134.9" cy="68.3" rx="3.4" ry="2.6"/><ellipse cx="138.4" cy="69.1" rx="3.4" ry="2.6"/><ellipse cx="141.0" cy="72.2" rx="3.4" ry="2.6"/><ellipse cx="146.3" cy="72.6" rx="3.4" ry="2.6"/><ellipse cx="134.0" cy="74.4" rx="3.4" ry="2.6"/><ellipse cx="137.5" cy="74.4" rx="3.4" ry="2.6"/><ellipse cx="132.3" cy="71.3" rx="3.4" ry="2.6"/><ellipse cx="143.7" cy="70.4" rx="3.4" ry="2.6"/><ellipse cx="135.8" cy="65.6" rx="3.4" ry="2.6"/><ellipse cx="92.1" cy="88.2" rx="3.4" ry="2.6"/><ellipse cx="101.8" cy="87.7" rx="3.4" ry="2.6"/><ellipse cx="101.3" cy="92.8" rx="3.4" ry="2.6"/><ellipse cx="105.4" cy="91.2" rx="3.4" ry="2.6"/><ellipse cx="109.5" cy="89.2" rx="3.4" ry="2.6"/><ellipse cx="112.5" cy="88.2" rx="3.4" ry="2.6"/><ellipse cx="117.1" cy="86.1" rx="3.4" ry="2.6"/><ellipse cx="115.6" cy="90.2" rx="3.4" ry="2.6"/><ellipse cx="111.5" cy="92.3" rx="3.4" ry="2.6"/><ellipse cx="107.4" cy="93.3" rx="3.4" ry="2.6"/><ellipse cx="103.3" cy="89.7" rx="3.4" ry="2.6"/><ellipse cx="113.5" cy="87.2" rx="3.4" ry="2.6"/><ellipse cx="108.4" cy="87.7" rx="3.4" ry="2.6"/><ellipse cx="117.6" cy="91.2" rx="3.4" ry="2.6"/><ellipse cx="101.3" cy="99.9" rx="3.4" ry="2.6"/><ellipse cx="108.9" cy="98.4" rx="3.4" ry="2.6"/><ellipse cx="105.9" cy="103.0" rx="3.4" ry="2.6"/><ellipse cx="113.5" cy="103.0" rx="3.4" ry="2.6"/><ellipse cx="115.6" cy="106.8" rx="3.4" ry="2.6"/><ellipse cx="114.8" cy="111.2" rx="3.4" ry="2.6"/><ellipse cx="110.0" cy="90.0" rx="3.4" ry="2.6"/><ellipse cx="113.0" cy="91.0" rx="3.4" ry="2.6"/><ellipse cx="116.0" cy="88.0" rx="3.4" ry="2.6"/><ellipse cx="111.0" cy="88.0" rx="3.4" ry="2.6"/><ellipse cx="114.0" cy="89.0" rx="3.4" ry="2.6"/><ellipse cx="110.5" cy="71.5" rx="3.4" ry="2.6"/><ellipse cx="112.0" cy="69.0" rx="3.4" ry="2.6"/><ellipse cx="136.0" cy="71.0" rx="3.4" ry="2.6"/><ellipse cx="139.0" cy="71.5" rx="3.4" ry="2.6"/><ellipse cx="128.9" cy="87.7" rx="3.4" ry="2.6"/><ellipse cx="133.0" cy="88.2" rx="3.4" ry="2.6"/><ellipse cx="127.9" cy="93.8" rx="3.4" ry="2.6"/><ellipse cx="136.0" cy="90.2" rx="3.4" ry="2.6"/><ellipse cx="145.7" cy="86.6" rx="3.4" ry="2.6"/><ellipse cx="143.7" cy="90.2" rx="3.4" ry="2.6"/><ellipse cx="141.1" cy="92.3" rx="3.4" ry="2.6"/><ellipse cx="147.3" cy="93.3" rx="3.4" ry="2.6"/><ellipse cx="153.4" cy="92.8" rx="3.4" ry="2.6"/><ellipse cx="144.7" cy="95.3" rx="3.4" ry="2.6"/><ellipse cx="133.0" cy="95.8" rx="3.4" ry="2.6"/><ellipse cx="138.1" cy="94.3" rx="3.4" ry="2.6"/><ellipse cx="136.0" cy="99.4" rx="3.4" ry="2.6"/><ellipse cx="138.1" cy="110.1" rx="3.4" ry="2.6"/><ellipse cx="130.9" cy="86.1" rx="3.4" ry="2.6"/><ellipse cx="139.1" cy="91.2" rx="3.4" ry="2.6"/><ellipse cx="132.0" cy="89.0" rx="3.4" ry="2.6"/><ellipse cx="135.0" cy="88.5" rx="3.4" ry="2.6"/><ellipse cx="109.9" cy="67.5" rx="3.4" ry="2.6"/><ellipse cx="113.8" cy="66.7" rx="3.4" ry="2.6"/><ellipse cx="112.4" cy="69.7" rx="3.4" ry="2.6"/><ellipse cx="106.7" cy="71.1" rx="3.4" ry="2.6"/><ellipse cx="106.4" cy="70.3" rx="3.4" ry="2.6"/><ellipse cx="106.8" cy="66.9" rx="3.4" ry="2.6"/><ellipse cx="111.1" cy="74.3" rx="3.4" ry="2.6"/><ellipse cx="107.5" cy="68.2" rx="3.4" ry="2.6"/><ellipse cx="113.5" cy="75.5" rx="3.4" ry="2.6"/><ellipse cx="112.9" cy="70.0" rx="3.4" ry="2.6"/><ellipse cx="142.7" cy="66.9" rx="3.4" ry="2.6"/><ellipse cx="141.3" cy="68.9" rx="3.4" ry="2.6"/><ellipse cx="132.7" cy="67.5" rx="3.4" ry="2.6"/><ellipse cx="134.7" cy="73.2" rx="3.4" ry="2.6"/><ellipse cx="133.2" cy="71.3" rx="3.4" ry="2.6"/><ellipse cx="138.7" cy="69.6" rx="3.4" ry="2.6"/><ellipse cx="137.6" cy="67.0" rx="3.4" ry="2.6"/><ellipse cx="131.7" cy="68.2" rx="3.4" ry="2.6"/><ellipse cx="113.8" cy="89.2" rx="3.4" ry="2.6"/><ellipse cx="108.9" cy="90.4" rx="3.4" ry="2.6"/><ellipse cx="110.8" cy="88.1" rx="3.4" ry="2.6"/><ellipse cx="115.3" cy="91.4" rx="3.4" ry="2.6"/><ellipse cx="108.0" cy="90.4" rx="3.4" ry="2.6"/><ellipse cx="111.7" cy="92.8" rx="3.4" ry="2.6"/><ellipse cx="114.4" cy="88.0" rx="3.4" ry="2.6"/><ellipse cx="117.7" cy="86.7" rx="3.4" ry="2.6"/><ellipse cx="110.3" cy="91.8" rx="3.4" ry="2.6"/><ellipse cx="106.8" cy="89.7" rx="3.4" ry="2.6"/><ellipse cx="127.5" cy="90.4" rx="3.4" ry="2.6"/><ellipse cx="135.9" cy="89.9" rx="3.4" ry="2.6"/><ellipse cx="137.2" cy="88.4" rx="3.4" ry="2.6"/><ellipse cx="135.1" cy="90.0" rx="3.4" ry="2.6"/><ellipse cx="133.8" cy="89.2" rx="3.4" ry="2.6"/><ellipse cx="136.8" cy="92.1" rx="3.4" ry="2.6"/><ellipse cx="132.5" cy="90.4" rx="3.4" ry="2.6"/><ellipse cx="127.7" cy="90.6" rx="3.4" ry="2.6"/></g>
<line x1="62.70" y1="26.90" x2="162.70" y2="26.90" stroke="#c4c4c4" stroke-width="1.6"/>
<line x1="162.70" y1="26.90" x2="162.70" y2="115.20" stroke="#7a7a7a" stroke-width="1.1"/>
<line x1="62.70" y1="26.30" x2="62.70" y2="115.20" stroke="#6a6a6a" stroke-width="1.1"/>
<line x1="62.20" y1="115.20" x2="163.20" y2="115.20" stroke="#555" stroke-width="1.1"/>
<line x1="65.86" y1="115.20" x2="65.86" y2="118.50" stroke="#444" stroke-width="1.4"/>
<text transform="translate(72.46,124.50) rotate(-28)" x="-18.19" y="0" font-size="9.4" fill="#4d4d4d" textLength="18.19" lengthAdjust="spacingAndGlyphs">−0.6</text>
<line x1="84.54" y1="115.20" x2="84.54" y2="118.50" stroke="#444" stroke-width="1.4"/>
<text transform="translate(91.14,124.50) rotate(-28)" x="-18.19" y="0" font-size="9.4" fill="#4d4d4d" textLength="18.19" lengthAdjust="spacingAndGlyphs">−0.4</text>
<line x1="103.22" y1="115.20" x2="103.22" y2="118.50" stroke="#444" stroke-width="1.4"/>
<text transform="translate(109.82,124.50) rotate(-28)" x="-18.19" y="0" font-size="9.4" fill="#4d4d4d" textLength="18.19" lengthAdjust="spacingAndGlyphs">−0.2</text>
<line x1="121.90" y1="115.20" x2="121.90" y2="118.50" stroke="#444" stroke-width="1.4"/>
<text transform="translate(128.50,124.50) rotate(-28)" x="-12.80" y="0" font-size="9.4" fill="#4d4d4d" textLength="12.80" lengthAdjust="spacingAndGlyphs">0.0</text>
<line x1="140.58" y1="115.20" x2="140.58" y2="118.50" stroke="#444" stroke-width="1.4"/>
<text transform="translate(147.18,124.50) rotate(-28)" x="-12.80" y="0" font-size="9.4" fill="#4d4d4d" textLength="12.80" lengthAdjust="spacingAndGlyphs">0.2</text>
<line x1="159.26" y1="115.20" x2="159.26" y2="118.50" stroke="#444" stroke-width="1.4"/>
<text transform="translate(165.86,124.50) rotate(-28)" x="-12.80" y="0" font-size="9.4" fill="#4d4d4d" textLength="12.80" lengthAdjust="spacingAndGlyphs">0.4</text>
<clipPath id="ca1"><rect x="166.02" y="26.90" width="100.00" height="88.30"/></clipPath>
<line x1="166.02" y1="29.70" x2="266.02" y2="29.70" stroke="#f6f6f6" stroke-width="0.9"/>
<line x1="166.02" y1="50.34" x2="266.02" y2="50.34" stroke="#f6f6f6" stroke-width="0.9"/>
<line x1="166.02" y1="70.98" x2="266.02" y2="70.98" stroke="#f6f6f6" stroke-width="0.9"/>
<line x1="166.02" y1="91.62" x2="266.02" y2="91.62" stroke="#f6f6f6" stroke-width="0.9"/>
<line x1="166.02" y1="112.26" x2="266.02" y2="112.26" stroke="#f6f6f6" stroke-width="0.9"/>
<line x1="178.52" y1="26.90" x2="178.52" y2="115.20" stroke="#f6f6f6" stroke-width="0.9"/>
<line x1="197.20" y1="26.90" x2="197.20" y2="115.20" stroke="#f6f6f6" stroke-width="0.9"/>
<line x1="215.88" y1="26.90" x2="215.88" y2="115.20" stroke="#f6f6f6" stroke-width="0.9"/>
<line x1="234.56" y1="26.90" x2="234.56" y2="115.20" stroke="#f6f6f6" stroke-width="0.9"/>
<line x1="253.24" y1="26.90" x2="253.24" y2="115.20" stroke="#f6f6f6" stroke-width="0.9"/>
<line x1="166.02" y1="40.02" x2="266.02" y2="40.02" stroke="#eeeeee" stroke-width="1"/>
<line x1="166.02" y1="60.66" x2="266.02" y2="60.66" stroke="#eeeeee" stroke-width="1"/>
<line x1="166.02" y1="81.30" x2="266.02" y2="81.30" stroke="#eeeeee" stroke-width="1"/>
<line x1="166.02" y1="101.94" x2="266.02" y2="101.94" stroke="#eeeeee" stroke-width="1"/>
<line x1="169.18" y1="26.90" x2="169.18" y2="115.20" stroke="#eeeeee" stroke-width="1"/>
<line x1="187.86" y1="26.90" x2="187.86" y2="115.20" stroke="#eeeeee" stroke-width="1"/>
<line x1="206.54" y1="26.90" x2="206.54" y2="115.20" stroke="#eeeeee" stroke-width="1"/>
<line x1="225.22" y1="26.90" x2="225.22" y2="115.20" stroke="#eeeeee" stroke-width="1"/>
<line x1="243.90" y1="26.90" x2="243.90" y2="115.20" stroke="#eeeeee" stroke-width="1"/>
<line x1="262.58" y1="26.90" x2="262.58" y2="115.20" stroke="#eeeeee" stroke-width="1"/>
<g clip-path="url(#ca1)" fill="#000" fill-opacity="0.4"><ellipse cx="182.5" cy="67.0" rx="3.4" ry="2.6"/><ellipse cx="187.9" cy="62.9" rx="3.4" ry="2.6"/><ellipse cx="193.0" cy="62.9" rx="3.4" ry="2.6"/><ellipse cx="198.8" cy="63.5" rx="3.4" ry="2.6"/><ellipse cx="206.5" cy="55.3" rx="3.4" ry="2.6"/><ellipse cx="209.8" cy="58.4" rx="3.4" ry="2.6"/><ellipse cx="215.0" cy="58.0" rx="3.4" ry="2.6"/><ellipse cx="205.8" cy="61.9" rx="3.4" ry="2.6"/><ellipse cx="212.8" cy="61.9" rx="3.4" ry="2.6"/><ellipse cx="192.7" cy="69.6" rx="3.4" ry="2.6"/><ellipse cx="196.6" cy="68.9" rx="3.4" ry="2.6"/><ellipse cx="198.8" cy="70.2" rx="3.4" ry="2.6"/><ellipse cx="202.8" cy="69.8" rx="3.4" ry="2.6"/><ellipse cx="205.0" cy="75.9" rx="3.4" ry="2.6"/><ellipse cx="207.2" cy="68.9" rx="3.4" ry="2.6"/><ellipse cx="210.7" cy="68.0" rx="3.4" ry="2.6"/><ellipse cx="213.3" cy="68.9" rx="3.4" ry="2.6"/><ellipse cx="217.7" cy="66.3" rx="3.4" ry="2.6"/><ellipse cx="211.5" cy="73.3" rx="3.4" ry="2.6"/><ellipse cx="215.0" cy="72.4" rx="3.4" ry="2.6"/><ellipse cx="218.5" cy="71.5" rx="3.4" ry="2.6"/><ellipse cx="220.3" cy="74.2" rx="3.4" ry="2.6"/><ellipse cx="222.0" cy="73.3" rx="3.4" ry="2.6"/><ellipse cx="209.8" cy="75.0" rx="3.4" ry="2.6"/><ellipse cx="216.8" cy="75.9" rx="3.4" ry="2.6"/><ellipse cx="213.7" cy="69.8" rx="3.4" ry="2.6"/><ellipse cx="209.5" cy="67.4" rx="3.4" ry="2.6"/><ellipse cx="213.9" cy="67.4" rx="3.4" ry="2.6"/><ellipse cx="218.3" cy="66.5" rx="3.4" ry="2.6"/><ellipse cx="211.3" cy="71.8" rx="3.4" ry="2.6"/><ellipse cx="216.5" cy="70.9" rx="3.4" ry="2.6"/><ellipse cx="220.9" cy="71.8" rx="3.4" ry="2.6"/><ellipse cx="222.6" cy="74.4" rx="3.4" ry="2.6"/><ellipse cx="215.6" cy="76.1" rx="3.4" ry="2.6"/><ellipse cx="211.3" cy="76.1" rx="3.4" ry="2.6"/><ellipse cx="219.1" cy="75.3" rx="3.4" ry="2.6"/><ellipse cx="206.9" cy="73.5" rx="3.4" ry="2.6"/><ellipse cx="214.8" cy="59.5" rx="3.4" ry="2.6"/><ellipse cx="211.3" cy="61.3" rx="3.4" ry="2.6"/><ellipse cx="207.8" cy="58.6" rx="3.4" ry="2.6"/><ellipse cx="239.3" cy="62.6" rx="3.4" ry="2.6"/><ellipse cx="236.6" cy="65.6" rx="3.4" ry="2.6"/><ellipse cx="235.8" cy="69.1" rx="3.4" ry="2.6"/><ellipse cx="232.3" cy="71.8" rx="3.4" ry="2.6"/><ellipse cx="231.8" cy="75.3" rx="3.4" ry="2.6"/><ellipse cx="241.0" cy="70.0" rx="3.4" ry="2.6"/><ellipse cx="239.3" cy="73.5" rx="3.4" ry="2.6"/><ellipse cx="243.7" cy="74.4" rx="3.4" ry="2.6"/><ellipse cx="240.6" cy="77.0" rx="3.4" ry="2.6"/><ellipse cx="237.5" cy="75.3" rx="3.4" ry="2.6"/><ellipse cx="184.2" cy="88.1" rx="3.4" ry="2.6"/><ellipse cx="204.0" cy="89.1" rx="3.4" ry="2.6"/><ellipse cx="204.7" cy="91.3" rx="3.4" ry="2.6"/><ellipse cx="209.8" cy="87.0" rx="3.4" ry="2.6"/><ellipse cx="214.2" cy="88.4" rx="3.4" ry="2.6"/><ellipse cx="218.6" cy="87.7" rx="3.4" ry="2.6"/><ellipse cx="217.1" cy="92.1" rx="3.4" ry="2.6"/><ellipse cx="209.8" cy="95.0" rx="3.4" ry="2.6"/><ellipse cx="214.2" cy="96.4" rx="3.4" ry="2.6"/><ellipse cx="219.3" cy="96.4" rx="3.4" ry="2.6"/><ellipse cx="199.6" cy="100.1" rx="3.4" ry="2.6"/><ellipse cx="220.0" cy="105.9" rx="3.4" ry="2.6"/><ellipse cx="211.3" cy="85.8" rx="3.4" ry="2.6"/><ellipse cx="214.8" cy="87.5" rx="3.4" ry="2.6"/><ellipse cx="219.1" cy="86.6" rx="3.4" ry="2.6"/><ellipse cx="208.6" cy="89.3" rx="3.4" ry="2.6"/><ellipse cx="213.0" cy="91.0" rx="3.4" ry="2.6"/><ellipse cx="217.4" cy="91.0" rx="3.4" ry="2.6"/><ellipse cx="220.9" cy="92.8" rx="3.4" ry="2.6"/><ellipse cx="210.4" cy="93.7" rx="3.4" ry="2.6"/><ellipse cx="215.6" cy="94.5" rx="3.4" ry="2.6"/><ellipse cx="230.2" cy="89.1" rx="3.4" ry="2.6"/><ellipse cx="234.6" cy="87.0" rx="3.4" ry="2.6"/><ellipse cx="240.5" cy="87.7" rx="3.4" ry="2.6"/><ellipse cx="237.5" cy="90.6" rx="3.4" ry="2.6"/><ellipse cx="236.1" cy="94.2" rx="3.4" ry="2.6"/><ellipse cx="241.9" cy="92.1" rx="3.4" ry="2.6"/><ellipse cx="235.3" cy="97.2" rx="3.4" ry="2.6"/><ellipse cx="244.8" cy="97.9" rx="3.4" ry="2.6"/><ellipse cx="241.2" cy="102.3" rx="3.4" ry="2.6"/><ellipse cx="237.5" cy="105.2" rx="3.4" ry="2.6"/><ellipse cx="248.5" cy="105.9" rx="3.4" ry="2.6"/><ellipse cx="244.1" cy="111.0" rx="3.4" ry="2.6"/><ellipse cx="249.9" cy="86.2" rx="3.4" ry="2.6"/><ellipse cx="252.9" cy="89.9" rx="3.4" ry="2.6"/><ellipse cx="247.0" cy="88.4" rx="3.4" ry="2.6"/><ellipse cx="234.0" cy="86.6" rx="3.4" ry="2.6"/><ellipse cx="239.3" cy="86.6" rx="3.4" ry="2.6"/><ellipse cx="236.6" cy="90.2" rx="3.4" ry="2.6"/><ellipse cx="232.3" cy="90.2" rx="3.4" ry="2.6"/><ellipse cx="216.1" cy="77.6" rx="3.4" ry="2.6"/><ellipse cx="218.3" cy="69.5" rx="3.4" ry="2.6"/><ellipse cx="212.8" cy="73.9" rx="3.4" ry="2.6"/><ellipse cx="208.3" cy="71.6" rx="3.4" ry="2.6"/><ellipse cx="210.1" cy="67.6" rx="3.4" ry="2.6"/><ellipse cx="208.7" cy="75.1" rx="3.4" ry="2.6"/><ellipse cx="209.6" cy="69.1" rx="3.4" ry="2.6"/><ellipse cx="212.9" cy="76.2" rx="3.4" ry="2.6"/><ellipse cx="209.0" cy="71.4" rx="3.4" ry="2.6"/><ellipse cx="214.9" cy="76.4" rx="3.4" ry="2.6"/><ellipse cx="218.2" cy="76.1" rx="3.4" ry="2.6"/><ellipse cx="211.5" cy="71.0" rx="3.4" ry="2.6"/><ellipse cx="212.8" cy="95.1" rx="3.4" ry="2.6"/><ellipse cx="220.9" cy="86.6" rx="3.4" ry="2.6"/><ellipse cx="210.4" cy="87.5" rx="3.4" ry="2.6"/><ellipse cx="211.2" cy="90.4" rx="3.4" ry="2.6"/><ellipse cx="216.0" cy="87.8" rx="3.4" ry="2.6"/><ellipse cx="208.1" cy="89.7" rx="3.4" ry="2.6"/><ellipse cx="213.0" cy="91.4" rx="3.4" ry="2.6"/><ellipse cx="220.9" cy="92.8" rx="3.4" ry="2.6"/><ellipse cx="215.0" cy="92.0" rx="3.4" ry="2.6"/><ellipse cx="217.1" cy="85.4" rx="3.4" ry="2.6"/><ellipse cx="242.1" cy="92.8" rx="3.4" ry="2.6"/><ellipse cx="241.9" cy="93.0" rx="3.4" ry="2.6"/><ellipse cx="237.5" cy="89.0" rx="3.4" ry="2.6"/><ellipse cx="234.9" cy="91.3" rx="3.4" ry="2.6"/><ellipse cx="234.6" cy="85.7" rx="3.4" ry="2.6"/><ellipse cx="235.9" cy="86.6" rx="3.4" ry="2.6"/><ellipse cx="237.1" cy="85.5" rx="3.4" ry="2.6"/><ellipse cx="234.0" cy="86.5" rx="3.4" ry="2.6"/><ellipse cx="234.9" cy="88.6" rx="3.4" ry="2.6"/><ellipse cx="234.2" cy="93.7" rx="3.4" ry="2.6"/><ellipse cx="237.5" cy="71.0" rx="3.4" ry="2.6"/><ellipse cx="234.3" cy="72.4" rx="3.4" ry="2.6"/><ellipse cx="235.3" cy="70.9" rx="3.4" ry="2.6"/><ellipse cx="239.6" cy="77.0" rx="3.4" ry="2.6"/></g>
<line x1="166.02" y1="26.90" x2="266.02" y2="26.90" stroke="#c4c4c4" stroke-width="1.6"/>
<line x1="266.02" y1="26.90" x2="266.02" y2="115.20" stroke="#7a7a7a" stroke-width="1.1"/>
<line x1="166.02" y1="26.30" x2="166.02" y2="115.20" stroke="#6a6a6a" stroke-width="1.1"/>
<line x1="165.52" y1="115.20" x2="266.52" y2="115.20" stroke="#555" stroke-width="1.1"/>
<line x1="169.18" y1="115.20" x2="169.18" y2="118.50" stroke="#444" stroke-width="1.4"/>
<text transform="translate(175.78,124.50) rotate(-28)" x="-18.19" y="0" font-size="9.4" fill="#4d4d4d" textLength="18.19" lengthAdjust="spacingAndGlyphs">−0.6</text>
<line x1="187.86" y1="115.20" x2="187.86" y2="118.50" stroke="#444" stroke-width="1.4"/>
<text transform="translate(194.46,124.50) rotate(-28)" x="-18.19" y="0" font-size="9.4" fill="#4d4d4d" textLength="18.19" lengthAdjust="spacingAndGlyphs">−0.4</text>
<line x1="206.54" y1="115.20" x2="206.54" y2="118.50" stroke="#444" stroke-width="1.4"/>
<text transform="translate(213.14,124.50) rotate(-28)" x="-18.19" y="0" font-size="9.4" fill="#4d4d4d" textLength="18.19" lengthAdjust="spacingAndGlyphs">−0.2</text>
<line x1="225.22" y1="115.20" x2="225.22" y2="118.50" stroke="#444" stroke-width="1.4"/>
<text transform="translate(231.82,124.50) rotate(-28)" x="-12.80" y="0" font-size="9.4" fill="#4d4d4d" textLength="12.80" lengthAdjust="spacingAndGlyphs">0.0</text>
<line x1="243.90" y1="115.20" x2="243.90" y2="118.50" stroke="#444" stroke-width="1.4"/>
<text transform="translate(250.50,124.50) rotate(-28)" x="-12.80" y="0" font-size="9.4" fill="#4d4d4d" textLength="12.80" lengthAdjust="spacingAndGlyphs">0.2</text>
<line x1="262.58" y1="115.20" x2="262.58" y2="118.50" stroke="#444" stroke-width="1.4"/>
<text transform="translate(269.18,124.50) rotate(-28)" x="-12.80" y="0" font-size="9.4" fill="#4d4d4d" textLength="12.80" lengthAdjust="spacingAndGlyphs">0.4</text>
<clipPath id="ca2"><rect x="269.34" y="26.90" width="100.00" height="88.30"/></clipPath>
<line x1="269.34" y1="29.70" x2="369.34" y2="29.70" stroke="#f6f6f6" stroke-width="0.9"/>
<line x1="269.34" y1="50.34" x2="369.34" y2="50.34" stroke="#f6f6f6" stroke-width="0.9"/>
<line x1="269.34" y1="70.98" x2="369.34" y2="70.98" stroke="#f6f6f6" stroke-width="0.9"/>
<line x1="269.34" y1="91.62" x2="369.34" y2="91.62" stroke="#f6f6f6" stroke-width="0.9"/>
<line x1="269.34" y1="112.26" x2="369.34" y2="112.26" stroke="#f6f6f6" stroke-width="0.9"/>
<line x1="281.84" y1="26.90" x2="281.84" y2="115.20" stroke="#f6f6f6" stroke-width="0.9"/>
<line x1="300.52" y1="26.90" x2="300.52" y2="115.20" stroke="#f6f6f6" stroke-width="0.9"/>
<line x1="319.20" y1="26.90" x2="319.20" y2="115.20" stroke="#f6f6f6" stroke-width="0.9"/>
<line x1="337.88" y1="26.90" x2="337.88" y2="115.20" stroke="#f6f6f6" stroke-width="0.9"/>
<line x1="356.56" y1="26.90" x2="356.56" y2="115.20" stroke="#f6f6f6" stroke-width="0.9"/>
<line x1="269.34" y1="40.02" x2="369.34" y2="40.02" stroke="#eeeeee" stroke-width="1"/>
<line x1="269.34" y1="60.66" x2="369.34" y2="60.66" stroke="#eeeeee" stroke-width="1"/>
<line x1="269.34" y1="81.30" x2="369.34" y2="81.30" stroke="#eeeeee" stroke-width="1"/>
<line x1="269.34" y1="101.94" x2="369.34" y2="101.94" stroke="#eeeeee" stroke-width="1"/>
<line x1="272.50" y1="26.90" x2="272.50" y2="115.20" stroke="#eeeeee" stroke-width="1"/>
<line x1="291.18" y1="26.90" x2="291.18" y2="115.20" stroke="#eeeeee" stroke-width="1"/>
<line x1="309.86" y1="26.90" x2="309.86" y2="115.20" stroke="#eeeeee" stroke-width="1"/>
<line x1="328.54" y1="26.90" x2="328.54" y2="115.20" stroke="#eeeeee" stroke-width="1"/>
<line x1="347.22" y1="26.90" x2="347.22" y2="115.20" stroke="#eeeeee" stroke-width="1"/>
<line x1="365.90" y1="26.90" x2="365.90" y2="115.20" stroke="#eeeeee" stroke-width="1"/>
<g clip-path="url(#ca2)" fill="#000" fill-opacity="0.4"><ellipse cx="293.6" cy="39.6" rx="3.4" ry="2.6"/><ellipse cx="348.3" cy="54.0" rx="3.4" ry="2.6"/><ellipse cx="295.2" cy="54.8" rx="3.4" ry="2.6"/><ellipse cx="294.8" cy="57.0" rx="3.4" ry="2.6"/><ellipse cx="279.3" cy="67.6" rx="3.4" ry="2.6"/><ellipse cx="286.7" cy="71.4" rx="3.4" ry="2.6"/><ellipse cx="292.6" cy="69.9" rx="3.4" ry="2.6"/><ellipse cx="291.1" cy="65.1" rx="3.4" ry="2.6"/><ellipse cx="293.8" cy="60.7" rx="3.4" ry="2.6"/><ellipse cx="301.7" cy="59.6" rx="3.4" ry="2.6"/><ellipse cx="309.5" cy="60.7" rx="3.4" ry="2.6"/><ellipse cx="318.4" cy="61.4" rx="3.4" ry="2.6"/><ellipse cx="297.0" cy="63.6" rx="3.4" ry="2.6"/><ellipse cx="304.4" cy="62.9" rx="3.4" ry="2.6"/><ellipse cx="300.7" cy="67.0" rx="3.4" ry="2.6"/><ellipse cx="306.6" cy="66.1" rx="3.4" ry="2.6"/><ellipse cx="313.2" cy="64.6" rx="3.4" ry="2.6"/><ellipse cx="319.9" cy="64.6" rx="3.4" ry="2.6"/><ellipse cx="300.7" cy="73.9" rx="3.4" ry="2.6"/><ellipse cx="305.9" cy="72.9" rx="3.4" ry="2.6"/><ellipse cx="312.5" cy="71.7" rx="3.4" ry="2.6"/><ellipse cx="313.2" cy="70.2" rx="3.4" ry="2.6"/><ellipse cx="317.7" cy="70.2" rx="3.4" ry="2.6"/><ellipse cx="322.1" cy="70.2" rx="3.4" ry="2.6"/><ellipse cx="324.3" cy="69.5" rx="3.4" ry="2.6"/><ellipse cx="319.1" cy="73.9" rx="3.4" ry="2.6"/><ellipse cx="323.6" cy="75.4" rx="3.4" ry="2.6"/><ellipse cx="316.2" cy="74.7" rx="3.4" ry="2.6"/><ellipse cx="338.3" cy="67.3" rx="3.4" ry="2.6"/><ellipse cx="339.8" cy="70.2" rx="3.4" ry="2.6"/><ellipse cx="333.9" cy="73.9" rx="3.4" ry="2.6"/><ellipse cx="342.7" cy="73.9" rx="3.4" ry="2.6"/><ellipse cx="336.8" cy="76.1" rx="3.4" ry="2.6"/><ellipse cx="341.3" cy="75.4" rx="3.4" ry="2.6"/><ellipse cx="333.9" cy="76.9" rx="3.4" ry="2.6"/><ellipse cx="309.5" cy="89.4" rx="3.4" ry="2.6"/><ellipse cx="314.7" cy="87.2" rx="3.4" ry="2.6"/><ellipse cx="322.8" cy="85.7" rx="3.4" ry="2.6"/><ellipse cx="311.8" cy="93.1" rx="3.4" ry="2.6"/><ellipse cx="317.7" cy="90.9" rx="3.4" ry="2.6"/><ellipse cx="322.1" cy="92.4" rx="3.4" ry="2.6"/><ellipse cx="313.2" cy="94.6" rx="3.4" ry="2.6"/><ellipse cx="311.0" cy="96.0" rx="3.4" ry="2.6"/><ellipse cx="320.6" cy="87.9" rx="3.4" ry="2.6"/><ellipse cx="316.2" cy="101.2" rx="3.4" ry="2.6"/><ellipse cx="321.3" cy="100.5" rx="3.4" ry="2.6"/><ellipse cx="315.4" cy="110.8" rx="3.4" ry="2.6"/><ellipse cx="335.4" cy="86.5" rx="3.4" ry="2.6"/><ellipse cx="332.4" cy="90.9" rx="3.4" ry="2.6"/><ellipse cx="338.3" cy="89.4" rx="3.4" ry="2.6"/><ellipse cx="342.7" cy="89.4" rx="3.4" ry="2.6"/><ellipse cx="345.7" cy="90.9" rx="3.4" ry="2.6"/><ellipse cx="349.4" cy="91.6" rx="3.4" ry="2.6"/><ellipse cx="356.0" cy="91.6" rx="3.4" ry="2.6"/><ellipse cx="350.8" cy="92.4" rx="3.4" ry="2.6"/><ellipse cx="335.4" cy="93.8" rx="3.4" ry="2.6"/><ellipse cx="339.8" cy="94.6" rx="3.4" ry="2.6"/><ellipse cx="344.2" cy="99.0" rx="3.4" ry="2.6"/><ellipse cx="336.8" cy="99.7" rx="3.4" ry="2.6"/><ellipse cx="364.8" cy="96.8" rx="3.4" ry="2.6"/><ellipse cx="330.9" cy="89.4" rx="3.4" ry="2.6"/><ellipse cx="333.9" cy="87.9" rx="3.4" ry="2.6"/><ellipse cx="319.9" cy="72.4" rx="3.4" ry="2.6"/><ellipse cx="321.3" cy="71.7" rx="3.4" ry="2.6"/><ellipse cx="339.0" cy="73.2" rx="3.4" ry="2.6"/><ellipse cx="336.8" cy="89.4" rx="3.4" ry="2.6"/><ellipse cx="336.1" cy="91.6" rx="3.4" ry="2.6"/><ellipse cx="313.2" cy="91.6" rx="3.4" ry="2.6"/><ellipse cx="318.0" cy="72.3" rx="3.4" ry="2.6"/><ellipse cx="312.9" cy="69.5" rx="3.4" ry="2.6"/><ellipse cx="316.3" cy="70.7" rx="3.4" ry="2.6"/><ellipse cx="322.7" cy="70.0" rx="3.4" ry="2.6"/><ellipse cx="312.1" cy="75.7" rx="3.4" ry="2.6"/><ellipse cx="318.8" cy="69.9" rx="3.4" ry="2.6"/><ellipse cx="319.0" cy="69.0" rx="3.4" ry="2.6"/><ellipse cx="318.8" cy="75.9" rx="3.4" ry="2.6"/><ellipse cx="342.6" cy="75.4" rx="3.4" ry="2.6"/><ellipse cx="335.5" cy="72.9" rx="3.4" ry="2.6"/><ellipse cx="334.4" cy="75.9" rx="3.4" ry="2.6"/><ellipse cx="338.7" cy="76.0" rx="3.4" ry="2.6"/><ellipse cx="336.3" cy="71.9" rx="3.4" ry="2.6"/><ellipse cx="342.0" cy="77.5" rx="3.4" ry="2.6"/><ellipse cx="342.5" cy="76.2" rx="3.4" ry="2.6"/><ellipse cx="342.1" cy="75.7" rx="3.4" ry="2.6"/><ellipse cx="312.5" cy="91.4" rx="3.4" ry="2.6"/><ellipse cx="314.6" cy="88.2" rx="3.4" ry="2.6"/><ellipse cx="309.3" cy="89.8" rx="3.4" ry="2.6"/><ellipse cx="313.0" cy="92.6" rx="3.4" ry="2.6"/><ellipse cx="324.3" cy="91.0" rx="3.4" ry="2.6"/><ellipse cx="324.0" cy="94.5" rx="3.4" ry="2.6"/><ellipse cx="324.3" cy="90.4" rx="3.4" ry="2.6"/><ellipse cx="312.4" cy="89.5" rx="3.4" ry="2.6"/><ellipse cx="333.3" cy="86.8" rx="3.4" ry="2.6"/><ellipse cx="338.3" cy="92.9" rx="3.4" ry="2.6"/><ellipse cx="340.8" cy="89.2" rx="3.4" ry="2.6"/><ellipse cx="338.6" cy="92.0" rx="3.4" ry="2.6"/><ellipse cx="332.0" cy="90.8" rx="3.4" ry="2.6"/><ellipse cx="341.6" cy="91.9" rx="3.4" ry="2.6"/><ellipse cx="339.8" cy="89.2" rx="3.4" ry="2.6"/><ellipse cx="333.1" cy="91.9" rx="3.4" ry="2.6"/><ellipse cx="334.9" cy="92.0" rx="3.4" ry="2.6"/><ellipse cx="342.4" cy="88.5" rx="3.4" ry="2.6"/></g>
<line x1="269.34" y1="26.90" x2="369.34" y2="26.90" stroke="#c4c4c4" stroke-width="1.6"/>
<line x1="369.34" y1="26.90" x2="369.34" y2="115.20" stroke="#7a7a7a" stroke-width="1.1"/>
<line x1="269.34" y1="26.30" x2="269.34" y2="115.20" stroke="#6a6a6a" stroke-width="1.1"/>
<line x1="268.84" y1="115.20" x2="369.84" y2="115.20" stroke="#555" stroke-width="1.1"/>
<line x1="272.50" y1="115.20" x2="272.50" y2="118.50" stroke="#444" stroke-width="1.4"/>
<text transform="translate(279.10,124.50) rotate(-28)" x="-18.19" y="0" font-size="9.4" fill="#4d4d4d" textLength="18.19" lengthAdjust="spacingAndGlyphs">−0.6</text>
<line x1="291.18" y1="115.20" x2="291.18" y2="118.50" stroke="#444" stroke-width="1.4"/>
<text transform="translate(297.78,124.50) rotate(-28)" x="-18.19" y="0" font-size="9.4" fill="#4d4d4d" textLength="18.19" lengthAdjust="spacingAndGlyphs">−0.4</text>
<line x1="309.86" y1="115.20" x2="309.86" y2="118.50" stroke="#444" stroke-width="1.4"/>
<text transform="translate(316.46,124.50) rotate(-28)" x="-18.19" y="0" font-size="9.4" fill="#4d4d4d" textLength="18.19" lengthAdjust="spacingAndGlyphs">−0.2</text>
<line x1="328.54" y1="115.20" x2="328.54" y2="118.50" stroke="#444" stroke-width="1.4"/>
<text transform="translate(335.14,124.50) rotate(-28)" x="-12.80" y="0" font-size="9.4" fill="#4d4d4d" textLength="12.80" lengthAdjust="spacingAndGlyphs">0.0</text>
<line x1="347.22" y1="115.20" x2="347.22" y2="118.50" stroke="#444" stroke-width="1.4"/>
<text transform="translate(353.82,124.50) rotate(-28)" x="-12.80" y="0" font-size="9.4" fill="#4d4d4d" textLength="12.80" lengthAdjust="spacingAndGlyphs">0.2</text>
<line x1="365.90" y1="115.20" x2="365.90" y2="118.50" stroke="#444" stroke-width="1.4"/>
<text transform="translate(372.50,124.50) rotate(-28)" x="-12.80" y="0" font-size="9.4" fill="#4d4d4d" textLength="12.80" lengthAdjust="spacingAndGlyphs">0.4</text>
<clipPath id="ca3"><rect x="372.66" y="26.90" width="100.00" height="88.30"/></clipPath>
<line x1="372.66" y1="29.70" x2="472.66" y2="29.70" stroke="#f6f6f6" stroke-width="0.9"/>
<line x1="372.66" y1="50.34" x2="472.66" y2="50.34" stroke="#f6f6f6" stroke-width="0.9"/>
<line x1="372.66" y1="70.98" x2="472.66" y2="70.98" stroke="#f6f6f6" stroke-width="0.9"/>
<line x1="372.66" y1="91.62" x2="472.66" y2="91.62" stroke="#f6f6f6" stroke-width="0.9"/>
<line x1="372.66" y1="112.26" x2="472.66" y2="112.26" stroke="#f6f6f6" stroke-width="0.9"/>
<line x1="385.16" y1="26.90" x2="385.16" y2="115.20" stroke="#f6f6f6" stroke-width="0.9"/>
<line x1="403.84" y1="26.90" x2="403.84" y2="115.20" stroke="#f6f6f6" stroke-width="0.9"/>
<line x1="422.52" y1="26.90" x2="422.52" y2="115.20" stroke="#f6f6f6" stroke-width="0.9"/>
<line x1="441.20" y1="26.90" x2="441.20" y2="115.20" stroke="#f6f6f6" stroke-width="0.9"/>
<line x1="459.88" y1="26.90" x2="459.88" y2="115.20" stroke="#f6f6f6" stroke-width="0.9"/>
<line x1="372.66" y1="40.02" x2="472.66" y2="40.02" stroke="#eeeeee" stroke-width="1"/>
<line x1="372.66" y1="60.66" x2="472.66" y2="60.66" stroke="#eeeeee" stroke-width="1"/>
<line x1="372.66" y1="81.30" x2="472.66" y2="81.30" stroke="#eeeeee" stroke-width="1"/>
<line x1="372.66" y1="101.94" x2="472.66" y2="101.94" stroke="#eeeeee" stroke-width="1"/>
<line x1="375.82" y1="26.90" x2="375.82" y2="115.20" stroke="#eeeeee" stroke-width="1"/>
<line x1="394.50" y1="26.90" x2="394.50" y2="115.20" stroke="#eeeeee" stroke-width="1"/>
<line x1="413.18" y1="26.90" x2="413.18" y2="115.20" stroke="#eeeeee" stroke-width="1"/>
<line x1="431.86" y1="26.90" x2="431.86" y2="115.20" stroke="#eeeeee" stroke-width="1"/>
<line x1="450.54" y1="26.90" x2="450.54" y2="115.20" stroke="#eeeeee" stroke-width="1"/>
<line x1="469.22" y1="26.90" x2="469.22" y2="115.20" stroke="#eeeeee" stroke-width="1"/>
<g clip-path="url(#ca3)" fill="#000" fill-opacity="0.4"><ellipse cx="399.6" cy="34.6" rx="3.4" ry="2.6"/><ellipse cx="377.2" cy="42.5" rx="3.4" ry="2.6"/><ellipse cx="400.8" cy="44.9" rx="3.4" ry="2.6"/><ellipse cx="405.9" cy="45.9" rx="3.4" ry="2.6"/><ellipse cx="405.9" cy="50.8" rx="3.4" ry="2.6"/><ellipse cx="411.1" cy="50.3" rx="3.4" ry="2.6"/><ellipse cx="417.0" cy="49.6" rx="3.4" ry="2.6"/><ellipse cx="393.4" cy="57.4" rx="3.4" ry="2.6"/><ellipse cx="401.5" cy="55.5" rx="3.4" ry="2.6"/><ellipse cx="418.4" cy="55.5" rx="3.4" ry="2.6"/><ellipse cx="426.6" cy="56.2" rx="3.4" ry="2.6"/><ellipse cx="440.6" cy="57.3" rx="3.4" ry="2.6"/><ellipse cx="408.9" cy="57.0" rx="3.4" ry="2.6"/><ellipse cx="412.5" cy="57.0" rx="3.4" ry="2.6"/><ellipse cx="407.4" cy="60.7" rx="3.4" ry="2.6"/><ellipse cx="411.1" cy="59.9" rx="3.4" ry="2.6"/><ellipse cx="419.9" cy="62.9" rx="3.4" ry="2.6"/><ellipse cx="391.9" cy="67.3" rx="3.4" ry="2.6"/><ellipse cx="397.8" cy="65.8" rx="3.4" ry="2.6"/><ellipse cx="403.0" cy="66.5" rx="3.4" ry="2.6"/><ellipse cx="402.2" cy="68.8" rx="3.4" ry="2.6"/><ellipse cx="411.1" cy="65.1" rx="3.4" ry="2.6"/><ellipse cx="411.8" cy="68.0" rx="3.4" ry="2.6"/><ellipse cx="416.2" cy="68.8" rx="3.4" ry="2.6"/><ellipse cx="424.3" cy="65.8" rx="3.4" ry="2.6"/><ellipse cx="425.8" cy="66.5" rx="3.4" ry="2.6"/><ellipse cx="423.6" cy="70.2" rx="3.4" ry="2.6"/><ellipse cx="427.3" cy="69.5" rx="3.4" ry="2.6"/><ellipse cx="409.6" cy="73.9" rx="3.4" ry="2.6"/><ellipse cx="414.0" cy="75.4" rx="3.4" ry="2.6"/><ellipse cx="417.7" cy="73.2" rx="3.4" ry="2.6"/><ellipse cx="422.1" cy="75.4" rx="3.4" ry="2.6"/><ellipse cx="428.0" cy="74.7" rx="3.4" ry="2.6"/><ellipse cx="419.2" cy="71.7" rx="3.4" ry="2.6"/><ellipse cx="414.8" cy="70.2" rx="3.4" ry="2.6"/><ellipse cx="436.9" cy="71.0" rx="3.4" ry="2.6"/><ellipse cx="436.9" cy="74.7" rx="3.4" ry="2.6"/><ellipse cx="444.3" cy="71.7" rx="3.4" ry="2.6"/><ellipse cx="445.0" cy="67.0" rx="3.4" ry="2.6"/><ellipse cx="444.3" cy="76.1" rx="3.4" ry="2.6"/><ellipse cx="456.0" cy="76.9" rx="3.4" ry="2.6"/><ellipse cx="439.8" cy="75.4" rx="3.4" ry="2.6"/><ellipse cx="394.9" cy="90.9" rx="3.4" ry="2.6"/><ellipse cx="408.9" cy="89.4" rx="3.4" ry="2.6"/><ellipse cx="413.3" cy="85.7" rx="3.4" ry="2.6"/><ellipse cx="419.2" cy="85.0" rx="3.4" ry="2.6"/><ellipse cx="424.3" cy="85.0" rx="3.4" ry="2.6"/><ellipse cx="425.8" cy="86.5" rx="3.4" ry="2.6"/><ellipse cx="422.9" cy="87.9" rx="3.4" ry="2.6"/><ellipse cx="420.7" cy="90.9" rx="3.4" ry="2.6"/><ellipse cx="420.7" cy="93.1" rx="3.4" ry="2.6"/><ellipse cx="436.9" cy="85.0" rx="3.4" ry="2.6"/><ellipse cx="442.0" cy="84.2" rx="3.4" ry="2.6"/><ellipse cx="438.4" cy="90.9" rx="3.4" ry="2.6"/><ellipse cx="445.7" cy="90.1" rx="3.4" ry="2.6"/><ellipse cx="442.8" cy="93.1" rx="3.4" ry="2.6"/><ellipse cx="447.2" cy="92.4" rx="3.4" ry="2.6"/><ellipse cx="441.3" cy="93.8" rx="3.4" ry="2.6"/><ellipse cx="445.7" cy="96.8" rx="3.4" ry="2.6"/><ellipse cx="451.6" cy="98.3" rx="3.4" ry="2.6"/><ellipse cx="435.4" cy="98.3" rx="3.4" ry="2.6"/><ellipse cx="439.1" cy="101.9" rx="3.4" ry="2.6"/><ellipse cx="419.9" cy="101.2" rx="3.4" ry="2.6"/><ellipse cx="427.3" cy="85.7" rx="3.4" ry="2.6"/><ellipse cx="416.6" cy="75.5" rx="3.4" ry="2.6"/><ellipse cx="422.7" cy="66.3" rx="3.4" ry="2.6"/><ellipse cx="411.3" cy="66.1" rx="3.4" ry="2.6"/><ellipse cx="426.2" cy="73.8" rx="3.4" ry="2.6"/><ellipse cx="411.7" cy="74.1" rx="3.4" ry="2.6"/><ellipse cx="427.6" cy="72.1" rx="3.4" ry="2.6"/><ellipse cx="415.6" cy="70.8" rx="3.4" ry="2.6"/><ellipse cx="411.4" cy="64.5" rx="3.4" ry="2.6"/><ellipse cx="427.4" cy="72.0" rx="3.4" ry="2.6"/><ellipse cx="419.0" cy="75.3" rx="3.4" ry="2.6"/><ellipse cx="417.2" cy="74.6" rx="3.4" ry="2.6"/><ellipse cx="424.7" cy="66.8" rx="3.4" ry="2.6"/><ellipse cx="421.3" cy="86.2" rx="3.4" ry="2.6"/><ellipse cx="421.2" cy="88.1" rx="3.4" ry="2.6"/><ellipse cx="421.3" cy="87.0" rx="3.4" ry="2.6"/><ellipse cx="420.2" cy="90.3" rx="3.4" ry="2.6"/><ellipse cx="422.2" cy="87.3" rx="3.4" ry="2.6"/><ellipse cx="424.3" cy="90.3" rx="3.4" ry="2.6"/><ellipse cx="441.2" cy="94.7" rx="3.4" ry="2.6"/><ellipse cx="442.0" cy="91.9" rx="3.4" ry="2.6"/><ellipse cx="442.2" cy="88.1" rx="3.4" ry="2.6"/><ellipse cx="441.4" cy="89.3" rx="3.4" ry="2.6"/><ellipse cx="437.0" cy="93.8" rx="3.4" ry="2.6"/><ellipse cx="438.7" cy="91.5" rx="3.4" ry="2.6"/></g>
<line x1="372.66" y1="26.90" x2="472.66" y2="26.90" stroke="#c4c4c4" stroke-width="1.6"/>
<line x1="472.66" y1="26.90" x2="472.66" y2="115.20" stroke="#7a7a7a" stroke-width="1.1"/>
<line x1="372.66" y1="26.30" x2="372.66" y2="115.20" stroke="#6a6a6a" stroke-width="1.1"/>
<line x1="372.16" y1="115.20" x2="473.16" y2="115.20" stroke="#555" stroke-width="1.1"/>
<line x1="375.82" y1="115.20" x2="375.82" y2="118.50" stroke="#444" stroke-width="1.4"/>
<text transform="translate(382.42,124.50) rotate(-28)" x="-18.19" y="0" font-size="9.4" fill="#4d4d4d" textLength="18.19" lengthAdjust="spacingAndGlyphs">−0.6</text>
<line x1="394.50" y1="115.20" x2="394.50" y2="118.50" stroke="#444" stroke-width="1.4"/>
<text transform="translate(401.10,124.50) rotate(-28)" x="-18.19" y="0" font-size="9.4" fill="#4d4d4d" textLength="18.19" lengthAdjust="spacingAndGlyphs">−0.4</text>
<line x1="413.18" y1="115.20" x2="413.18" y2="118.50" stroke="#444" stroke-width="1.4"/>
<text transform="translate(419.78,124.50) rotate(-28)" x="-18.19" y="0" font-size="9.4" fill="#4d4d4d" textLength="18.19" lengthAdjust="spacingAndGlyphs">−0.2</text>
<line x1="431.86" y1="115.20" x2="431.86" y2="118.50" stroke="#444" stroke-width="1.4"/>
<text transform="translate(438.46,124.50) rotate(-28)" x="-12.80" y="0" font-size="9.4" fill="#4d4d4d" textLength="12.80" lengthAdjust="spacingAndGlyphs">0.0</text>
<line x1="450.54" y1="115.20" x2="450.54" y2="118.50" stroke="#444" stroke-width="1.4"/>
<text transform="translate(457.14,124.50) rotate(-28)" x="-12.80" y="0" font-size="9.4" fill="#4d4d4d" textLength="12.80" lengthAdjust="spacingAndGlyphs">0.2</text>
<line x1="469.22" y1="115.20" x2="469.22" y2="118.50" stroke="#444" stroke-width="1.4"/>
<text transform="translate(475.82,124.50) rotate(-28)" x="-12.80" y="0" font-size="9.4" fill="#4d4d4d" textLength="12.80" lengthAdjust="spacingAndGlyphs">0.4</text>
<clipPath id="ca4"><rect x="475.98" y="26.90" width="100.00" height="88.30"/></clipPath>
<line x1="475.98" y1="29.70" x2="575.98" y2="29.70" stroke="#f6f6f6" stroke-width="0.9"/>
<line x1="475.98" y1="50.34" x2="575.98" y2="50.34" stroke="#f6f6f6" stroke-width="0.9"/>
<line x1="475.98" y1="70.98" x2="575.98" y2="70.98" stroke="#f6f6f6" stroke-width="0.9"/>
<line x1="475.98" y1="91.62" x2="575.98" y2="91.62" stroke="#f6f6f6" stroke-width="0.9"/>
<line x1="475.98" y1="112.26" x2="575.98" y2="112.26" stroke="#f6f6f6" stroke-width="0.9"/>
<line x1="488.48" y1="26.90" x2="488.48" y2="115.20" stroke="#f6f6f6" stroke-width="0.9"/>
<line x1="507.16" y1="26.90" x2="507.16" y2="115.20" stroke="#f6f6f6" stroke-width="0.9"/>
<line x1="525.84" y1="26.90" x2="525.84" y2="115.20" stroke="#f6f6f6" stroke-width="0.9"/>
<line x1="544.52" y1="26.90" x2="544.52" y2="115.20" stroke="#f6f6f6" stroke-width="0.9"/>
<line x1="563.20" y1="26.90" x2="563.20" y2="115.20" stroke="#f6f6f6" stroke-width="0.9"/>
<line x1="475.98" y1="40.02" x2="575.98" y2="40.02" stroke="#eeeeee" stroke-width="1"/>
<line x1="475.98" y1="60.66" x2="575.98" y2="60.66" stroke="#eeeeee" stroke-width="1"/>
<line x1="475.98" y1="81.30" x2="575.98" y2="81.30" stroke="#eeeeee" stroke-width="1"/>
<line x1="475.98" y1="101.94" x2="575.98" y2="101.94" stroke="#eeeeee" stroke-width="1"/>
<line x1="479.14" y1="26.90" x2="479.14" y2="115.20" stroke="#eeeeee" stroke-width="1"/>
<line x1="497.82" y1="26.90" x2="497.82" y2="115.20" stroke="#eeeeee" stroke-width="1"/>
<line x1="516.50" y1="26.90" x2="516.50" y2="115.20" stroke="#eeeeee" stroke-width="1"/>
<line x1="535.18" y1="26.90" x2="535.18" y2="115.20" stroke="#eeeeee" stroke-width="1"/>
<line x1="553.86" y1="26.90" x2="553.86" y2="115.20" stroke="#eeeeee" stroke-width="1"/>
<line x1="572.54" y1="26.90" x2="572.54" y2="115.20" stroke="#eeeeee" stroke-width="1"/>
<g clip-path="url(#ca4)" fill="#000" fill-opacity="0.4"><ellipse cx="493.7" cy="30.7" rx="3.4" ry="2.6"/><ellipse cx="508.2" cy="34.6" rx="3.4" ry="2.6"/><ellipse cx="514.5" cy="32.8" rx="3.4" ry="2.6"/><ellipse cx="502.3" cy="45.2" rx="3.4" ry="2.6"/><ellipse cx="500.8" cy="49.3" rx="3.4" ry="2.6"/><ellipse cx="490.2" cy="56.2" rx="3.4" ry="2.6"/><ellipse cx="508.9" cy="51.8" rx="3.4" ry="2.6"/><ellipse cx="513.6" cy="49.9" rx="3.4" ry="2.6"/><ellipse cx="519.2" cy="50.3" rx="3.4" ry="2.6"/><ellipse cx="503.8" cy="55.5" rx="3.4" ry="2.6"/><ellipse cx="508.2" cy="57.0" rx="3.4" ry="2.6"/><ellipse cx="510.4" cy="61.4" rx="3.4" ry="2.6"/><ellipse cx="517.8" cy="54.8" rx="3.4" ry="2.6"/><ellipse cx="520.7" cy="57.0" rx="3.4" ry="2.6"/><ellipse cx="522.9" cy="59.2" rx="3.4" ry="2.6"/><ellipse cx="529.6" cy="57.0" rx="3.4" ry="2.6"/><ellipse cx="530.3" cy="60.7" rx="3.4" ry="2.6"/><ellipse cx="525.9" cy="58.4" rx="3.4" ry="2.6"/><ellipse cx="503.0" cy="67.6" rx="3.4" ry="2.6"/><ellipse cx="503.0" cy="67.6" rx="3.4" ry="2.6"/><ellipse cx="511.9" cy="69.5" rx="3.4" ry="2.6"/><ellipse cx="514.8" cy="67.3" rx="3.4" ry="2.6"/><ellipse cx="514.8" cy="73.2" rx="3.4" ry="2.6"/><ellipse cx="519.2" cy="62.9" rx="3.4" ry="2.6"/><ellipse cx="522.2" cy="64.3" rx="3.4" ry="2.6"/><ellipse cx="525.1" cy="65.8" rx="3.4" ry="2.6"/><ellipse cx="520.7" cy="68.8" rx="3.4" ry="2.6"/><ellipse cx="525.1" cy="70.2" rx="3.4" ry="2.6"/><ellipse cx="529.6" cy="70.2" rx="3.4" ry="2.6"/><ellipse cx="533.2" cy="73.2" rx="3.4" ry="2.6"/><ellipse cx="523.7" cy="73.9" rx="3.4" ry="2.6"/><ellipse cx="528.1" cy="74.7" rx="3.4" ry="2.6"/><ellipse cx="523.7" cy="77.6" rx="3.4" ry="2.6"/><ellipse cx="519.2" cy="71.0" rx="3.4" ry="2.6"/><ellipse cx="542.8" cy="62.6" rx="3.4" ry="2.6"/><ellipse cx="547.3" cy="66.5" rx="3.4" ry="2.6"/><ellipse cx="541.4" cy="70.2" rx="3.4" ry="2.6"/><ellipse cx="544.3" cy="71.7" rx="3.4" ry="2.6"/><ellipse cx="548.7" cy="70.2" rx="3.4" ry="2.6"/><ellipse cx="550.2" cy="73.9" rx="3.4" ry="2.6"/><ellipse cx="539.9" cy="76.9" rx="3.4" ry="2.6"/><ellipse cx="544.3" cy="76.9" rx="3.4" ry="2.6"/><ellipse cx="548.0" cy="75.4" rx="3.4" ry="2.6"/><ellipse cx="545.8" cy="74.7" rx="3.4" ry="2.6"/><ellipse cx="531.8" cy="84.2" rx="3.4" ry="2.6"/><ellipse cx="523.7" cy="86.5" rx="3.4" ry="2.6"/><ellipse cx="528.1" cy="86.5" rx="3.4" ry="2.6"/><ellipse cx="522.2" cy="90.9" rx="3.4" ry="2.6"/><ellipse cx="526.6" cy="89.4" rx="3.4" ry="2.6"/><ellipse cx="529.6" cy="87.9" rx="3.4" ry="2.6"/><ellipse cx="527.3" cy="93.1" rx="3.4" ry="2.6"/><ellipse cx="531.0" cy="94.6" rx="3.4" ry="2.6"/><ellipse cx="541.4" cy="85.0" rx="3.4" ry="2.6"/><ellipse cx="549.5" cy="85.0" rx="3.4" ry="2.6"/><ellipse cx="539.9" cy="87.9" rx="3.4" ry="2.6"/><ellipse cx="544.3" cy="89.4" rx="3.4" ry="2.6"/><ellipse cx="548.7" cy="90.9" rx="3.4" ry="2.6"/><ellipse cx="542.8" cy="93.1" rx="3.4" ry="2.6"/><ellipse cx="547.3" cy="93.1" rx="3.4" ry="2.6"/><ellipse cx="549.5" cy="94.6" rx="3.4" ry="2.6"/><ellipse cx="541.4" cy="96.8" rx="3.4" ry="2.6"/><ellipse cx="544.3" cy="95.3" rx="3.4" ry="2.6"/><ellipse cx="541.4" cy="99.7" rx="3.4" ry="2.6"/><ellipse cx="560.5" cy="90.1" rx="3.4" ry="2.6"/><ellipse cx="520.7" cy="87.9" rx="3.4" ry="2.6"/><ellipse cx="528.8" cy="70.9" rx="3.4" ry="2.6"/><ellipse cx="523.4" cy="70.4" rx="3.4" ry="2.6"/><ellipse cx="526.5" cy="73.6" rx="3.4" ry="2.6"/><ellipse cx="520.4" cy="70.9" rx="3.4" ry="2.6"/><ellipse cx="522.4" cy="67.6" rx="3.4" ry="2.6"/><ellipse cx="529.4" cy="70.3" rx="3.4" ry="2.6"/><ellipse cx="526.6" cy="73.3" rx="3.4" ry="2.6"/><ellipse cx="531.3" cy="69.5" rx="3.4" ry="2.6"/><ellipse cx="527.3" cy="70.3" rx="3.4" ry="2.6"/><ellipse cx="525.9" cy="72.5" rx="3.4" ry="2.6"/><ellipse cx="544.5" cy="74.1" rx="3.4" ry="2.6"/><ellipse cx="544.8" cy="77.2" rx="3.4" ry="2.6"/><ellipse cx="547.0" cy="76.7" rx="3.4" ry="2.6"/><ellipse cx="549.4" cy="72.0" rx="3.4" ry="2.6"/><ellipse cx="545.6" cy="77.2" rx="3.4" ry="2.6"/><ellipse cx="548.4" cy="71.0" rx="3.4" ry="2.6"/><ellipse cx="541.2" cy="73.4" rx="3.4" ry="2.6"/><ellipse cx="522.7" cy="87.1" rx="3.4" ry="2.6"/><ellipse cx="522.7" cy="90.9" rx="3.4" ry="2.6"/><ellipse cx="529.1" cy="92.9" rx="3.4" ry="2.6"/><ellipse cx="523.4" cy="91.3" rx="3.4" ry="2.6"/><ellipse cx="527.9" cy="86.3" rx="3.4" ry="2.6"/><ellipse cx="529.9" cy="93.5" rx="3.4" ry="2.6"/><ellipse cx="524.0" cy="93.4" rx="3.4" ry="2.6"/><ellipse cx="543.5" cy="90.0" rx="3.4" ry="2.6"/><ellipse cx="548.6" cy="93.6" rx="3.4" ry="2.6"/><ellipse cx="541.4" cy="89.4" rx="3.4" ry="2.6"/><ellipse cx="544.5" cy="88.5" rx="3.4" ry="2.6"/><ellipse cx="541.7" cy="88.3" rx="3.4" ry="2.6"/><ellipse cx="546.3" cy="85.2" rx="3.4" ry="2.6"/><ellipse cx="544.8" cy="89.5" rx="3.4" ry="2.6"/><ellipse cx="540.2" cy="88.4" rx="3.4" ry="2.6"/></g>
<line x1="475.98" y1="26.90" x2="575.98" y2="26.90" stroke="#c4c4c4" stroke-width="1.6"/>
<line x1="575.98" y1="26.90" x2="575.98" y2="115.20" stroke="#7a7a7a" stroke-width="1.1"/>
<line x1="475.98" y1="26.30" x2="475.98" y2="115.20" stroke="#6a6a6a" stroke-width="1.1"/>
<line x1="475.48" y1="115.20" x2="576.48" y2="115.20" stroke="#555" stroke-width="1.1"/>
<line x1="479.14" y1="115.20" x2="479.14" y2="118.50" stroke="#444" stroke-width="1.4"/>
<text transform="translate(485.74,124.50) rotate(-28)" x="-18.19" y="0" font-size="9.4" fill="#4d4d4d" textLength="18.19" lengthAdjust="spacingAndGlyphs">−0.6</text>
<line x1="497.82" y1="115.20" x2="497.82" y2="118.50" stroke="#444" stroke-width="1.4"/>
<text transform="translate(504.42,124.50) rotate(-28)" x="-18.19" y="0" font-size="9.4" fill="#4d4d4d" textLength="18.19" lengthAdjust="spacingAndGlyphs">−0.4</text>
<line x1="516.50" y1="115.20" x2="516.50" y2="118.50" stroke="#444" stroke-width="1.4"/>
<text transform="translate(523.10,124.50) rotate(-28)" x="-18.19" y="0" font-size="9.4" fill="#4d4d4d" textLength="18.19" lengthAdjust="spacingAndGlyphs">−0.2</text>
<line x1="535.18" y1="115.20" x2="535.18" y2="118.50" stroke="#444" stroke-width="1.4"/>
<text transform="translate(541.78,124.50) rotate(-28)" x="-12.80" y="0" font-size="9.4" fill="#4d4d4d" textLength="12.80" lengthAdjust="spacingAndGlyphs">0.0</text>
<line x1="553.86" y1="115.20" x2="553.86" y2="118.50" stroke="#444" stroke-width="1.4"/>
<text transform="translate(560.46,124.50) rotate(-28)" x="-12.80" y="0" font-size="9.4" fill="#4d4d4d" textLength="12.80" lengthAdjust="spacingAndGlyphs">0.2</text>
<line x1="572.54" y1="115.20" x2="572.54" y2="118.50" stroke="#444" stroke-width="1.4"/>
<text transform="translate(579.14,124.50) rotate(-28)" x="-12.80" y="0" font-size="9.4" fill="#4d4d4d" textLength="12.80" lengthAdjust="spacingAndGlyphs">0.4</text>
<clipPath id="ca5"><rect x="579.30" y="26.90" width="100.00" height="88.30"/></clipPath>
<line x1="579.30" y1="29.70" x2="679.30" y2="29.70" stroke="#f6f6f6" stroke-width="0.9"/>
<line x1="579.30" y1="50.34" x2="679.30" y2="50.34" stroke="#f6f6f6" stroke-width="0.9"/>
<line x1="579.30" y1="70.98" x2="679.30" y2="70.98" stroke="#f6f6f6" stroke-width="0.9"/>
<line x1="579.30" y1="91.62" x2="679.30" y2="91.62" stroke="#f6f6f6" stroke-width="0.9"/>
<line x1="579.30" y1="112.26" x2="679.30" y2="112.26" stroke="#f6f6f6" stroke-width="0.9"/>
<line x1="591.80" y1="26.90" x2="591.80" y2="115.20" stroke="#f6f6f6" stroke-width="0.9"/>
<line x1="610.48" y1="26.90" x2="610.48" y2="115.20" stroke="#f6f6f6" stroke-width="0.9"/>
<line x1="629.16" y1="26.90" x2="629.16" y2="115.20" stroke="#f6f6f6" stroke-width="0.9"/>
<line x1="647.84" y1="26.90" x2="647.84" y2="115.20" stroke="#f6f6f6" stroke-width="0.9"/>
<line x1="666.52" y1="26.90" x2="666.52" y2="115.20" stroke="#f6f6f6" stroke-width="0.9"/>
<line x1="579.30" y1="40.02" x2="679.30" y2="40.02" stroke="#eeeeee" stroke-width="1"/>
<line x1="579.30" y1="60.66" x2="679.30" y2="60.66" stroke="#eeeeee" stroke-width="1"/>
<line x1="579.30" y1="81.30" x2="679.30" y2="81.30" stroke="#eeeeee" stroke-width="1"/>
<line x1="579.30" y1="101.94" x2="679.30" y2="101.94" stroke="#eeeeee" stroke-width="1"/>
<line x1="582.46" y1="26.90" x2="582.46" y2="115.20" stroke="#eeeeee" stroke-width="1"/>
<line x1="601.14" y1="26.90" x2="601.14" y2="115.20" stroke="#eeeeee" stroke-width="1"/>
<line x1="619.82" y1="26.90" x2="619.82" y2="115.20" stroke="#eeeeee" stroke-width="1"/>
<line x1="638.50" y1="26.90" x2="638.50" y2="115.20" stroke="#eeeeee" stroke-width="1"/>
<line x1="657.18" y1="26.90" x2="657.18" y2="115.20" stroke="#eeeeee" stroke-width="1"/>
<line x1="675.86" y1="26.90" x2="675.86" y2="115.20" stroke="#eeeeee" stroke-width="1"/>
<g clip-path="url(#ca5)" fill="#000" fill-opacity="0.4"><ellipse cx="594.5" cy="37.5" rx="3.4" ry="2.6"/><ellipse cx="597.7" cy="41.2" rx="3.4" ry="2.6"/><ellipse cx="592.3" cy="47.4" rx="3.4" ry="2.6"/><ellipse cx="617.6" cy="45.2" rx="3.4" ry="2.6"/><ellipse cx="612.9" cy="48.9" rx="3.4" ry="2.6"/><ellipse cx="606.0" cy="52.5" rx="3.4" ry="2.6"/><ellipse cx="610.7" cy="55.5" rx="3.4" ry="2.6"/><ellipse cx="614.4" cy="54.0" rx="3.4" ry="2.6"/><ellipse cx="624.0" cy="53.3" rx="3.4" ry="2.6"/><ellipse cx="624.0" cy="58.4" rx="3.4" ry="2.6"/><ellipse cx="602.6" cy="59.2" rx="3.4" ry="2.6"/><ellipse cx="602.6" cy="59.2" rx="3.4" ry="2.6"/><ellipse cx="603.3" cy="64.6" rx="3.4" ry="2.6"/><ellipse cx="615.1" cy="60.7" rx="3.4" ry="2.6"/><ellipse cx="618.1" cy="61.4" rx="3.4" ry="2.6"/><ellipse cx="624.7" cy="62.1" rx="3.4" ry="2.6"/><ellipse cx="613.7" cy="65.8" rx="3.4" ry="2.6"/><ellipse cx="618.8" cy="65.8" rx="3.4" ry="2.6"/><ellipse cx="626.2" cy="65.8" rx="3.4" ry="2.6"/><ellipse cx="629.9" cy="68.8" rx="3.4" ry="2.6"/><ellipse cx="634.3" cy="68.8" rx="3.4" ry="2.6"/><ellipse cx="610.0" cy="71.7" rx="3.4" ry="2.6"/><ellipse cx="621.0" cy="68.8" rx="3.4" ry="2.6"/><ellipse cx="612.2" cy="76.9" rx="3.4" ry="2.6"/><ellipse cx="626.2" cy="73.2" rx="3.4" ry="2.6"/><ellipse cx="629.1" cy="73.9" rx="3.4" ry="2.6"/><ellipse cx="632.1" cy="75.4" rx="3.4" ry="2.6"/><ellipse cx="624.0" cy="76.9" rx="3.4" ry="2.6"/><ellipse cx="631.3" cy="77.6" rx="3.4" ry="2.6"/><ellipse cx="635.0" cy="76.9" rx="3.4" ry="2.6"/><ellipse cx="627.7" cy="76.1" rx="3.4" ry="2.6"/><ellipse cx="655.7" cy="61.1" rx="3.4" ry="2.6"/><ellipse cx="646.1" cy="71.7" rx="3.4" ry="2.6"/><ellipse cx="646.8" cy="75.4" rx="3.4" ry="2.6"/><ellipse cx="651.3" cy="76.9" rx="3.4" ry="2.6"/><ellipse cx="642.4" cy="76.9" rx="3.4" ry="2.6"/><ellipse cx="653.5" cy="78.3" rx="3.4" ry="2.6"/><ellipse cx="661.6" cy="74.4" rx="3.4" ry="2.6"/><ellipse cx="635.0" cy="83.5" rx="3.4" ry="2.6"/><ellipse cx="630.6" cy="85.7" rx="3.4" ry="2.6"/><ellipse cx="629.1" cy="87.9" rx="3.4" ry="2.6"/><ellipse cx="633.6" cy="87.2" rx="3.4" ry="2.6"/><ellipse cx="636.5" cy="90.9" rx="3.4" ry="2.6"/><ellipse cx="631.3" cy="94.6" rx="3.4" ry="2.6"/><ellipse cx="621.0" cy="88.7" rx="3.4" ry="2.6"/><ellipse cx="620.3" cy="90.9" rx="3.4" ry="2.6"/><ellipse cx="625.4" cy="92.4" rx="3.4" ry="2.6"/><ellipse cx="614.4" cy="93.1" rx="3.4" ry="2.6"/><ellipse cx="646.8" cy="84.2" rx="3.4" ry="2.6"/><ellipse cx="644.6" cy="85.7" rx="3.4" ry="2.6"/><ellipse cx="649.0" cy="87.9" rx="3.4" ry="2.6"/><ellipse cx="645.4" cy="88.7" rx="3.4" ry="2.6"/><ellipse cx="652.7" cy="88.7" rx="3.4" ry="2.6"/><ellipse cx="658.6" cy="86.5" rx="3.4" ry="2.6"/><ellipse cx="655.7" cy="90.9" rx="3.4" ry="2.6"/><ellipse cx="660.1" cy="93.8" rx="3.4" ry="2.6"/><ellipse cx="643.9" cy="95.3" rx="3.4" ry="2.6"/><ellipse cx="648.3" cy="95.3" rx="3.4" ry="2.6"/><ellipse cx="642.4" cy="96.8" rx="3.4" ry="2.6"/><ellipse cx="651.3" cy="93.8" rx="3.4" ry="2.6"/><ellipse cx="630.5" cy="74.7" rx="3.4" ry="2.6"/><ellipse cx="623.8" cy="77.5" rx="3.4" ry="2.6"/><ellipse cx="632.5" cy="77.4" rx="3.4" ry="2.6"/><ellipse cx="624.3" cy="73.3" rx="3.4" ry="2.6"/><ellipse cx="623.5" cy="76.3" rx="3.4" ry="2.6"/><ellipse cx="626.2" cy="72.5" rx="3.4" ry="2.6"/><ellipse cx="628.1" cy="77.1" rx="3.4" ry="2.6"/><ellipse cx="632.8" cy="73.2" rx="3.4" ry="2.6"/><ellipse cx="643.9" cy="77.2" rx="3.4" ry="2.6"/><ellipse cx="648.3" cy="76.3" rx="3.4" ry="2.6"/><ellipse cx="643.3" cy="73.5" rx="3.4" ry="2.6"/><ellipse cx="649.5" cy="75.1" rx="3.4" ry="2.6"/><ellipse cx="643.1" cy="77.3" rx="3.4" ry="2.6"/><ellipse cx="648.9" cy="76.7" rx="3.4" ry="2.6"/><ellipse cx="644.6" cy="93.6" rx="3.4" ry="2.6"/><ellipse cx="644.5" cy="93.7" rx="3.4" ry="2.6"/><ellipse cx="647.9" cy="87.5" rx="3.4" ry="2.6"/><ellipse cx="648.8" cy="94.4" rx="3.4" ry="2.6"/><ellipse cx="646.3" cy="85.0" rx="3.4" ry="2.6"/><ellipse cx="648.5" cy="86.3" rx="3.4" ry="2.6"/><ellipse cx="644.9" cy="85.4" rx="3.4" ry="2.6"/><ellipse cx="644.3" cy="85.9" rx="3.4" ry="2.6"/><ellipse cx="630.4" cy="85.8" rx="3.4" ry="2.6"/><ellipse cx="634.4" cy="85.7" rx="3.4" ry="2.6"/><ellipse cx="632.1" cy="85.1" rx="3.4" ry="2.6"/><ellipse cx="630.8" cy="84.3" rx="3.4" ry="2.6"/><ellipse cx="629.9" cy="84.3" rx="3.4" ry="2.6"/><ellipse cx="634.2" cy="87.1" rx="3.4" ry="2.6"/></g>
<line x1="579.30" y1="26.90" x2="679.30" y2="26.90" stroke="#c4c4c4" stroke-width="1.6"/>
<line x1="679.30" y1="26.90" x2="679.30" y2="115.20" stroke="#7a7a7a" stroke-width="1.1"/>
<line x1="579.30" y1="26.30" x2="579.30" y2="115.20" stroke="#6a6a6a" stroke-width="1.1"/>
<line x1="578.80" y1="115.20" x2="679.80" y2="115.20" stroke="#555" stroke-width="1.1"/>
<line x1="582.46" y1="115.20" x2="582.46" y2="118.50" stroke="#444" stroke-width="1.4"/>
<text transform="translate(589.06,124.50) rotate(-28)" x="-18.19" y="0" font-size="9.4" fill="#4d4d4d" textLength="18.19" lengthAdjust="spacingAndGlyphs">−0.6</text>
<line x1="601.14" y1="115.20" x2="601.14" y2="118.50" stroke="#444" stroke-width="1.4"/>
<text transform="translate(607.74,124.50) rotate(-28)" x="-18.19" y="0" font-size="9.4" fill="#4d4d4d" textLength="18.19" lengthAdjust="spacingAndGlyphs">−0.4</text>
<line x1="619.82" y1="115.20" x2="619.82" y2="118.50" stroke="#444" stroke-width="1.4"/>
<text transform="translate(626.42,124.50) rotate(-28)" x="-18.19" y="0" font-size="9.4" fill="#4d4d4d" textLength="18.19" lengthAdjust="spacingAndGlyphs">−0.2</text>
<line x1="638.50" y1="115.20" x2="638.50" y2="118.50" stroke="#444" stroke-width="1.4"/>
<text transform="translate(645.10,124.50) rotate(-28)" x="-12.80" y="0" font-size="9.4" fill="#4d4d4d" textLength="12.80" lengthAdjust="spacingAndGlyphs">0.0</text>
<line x1="657.18" y1="115.20" x2="657.18" y2="118.50" stroke="#444" stroke-width="1.4"/>
<text transform="translate(663.78,124.50) rotate(-28)" x="-12.80" y="0" font-size="9.4" fill="#4d4d4d" textLength="12.80" lengthAdjust="spacingAndGlyphs">0.2</text>
<line x1="675.86" y1="115.20" x2="675.86" y2="118.50" stroke="#444" stroke-width="1.4"/>
<text transform="translate(682.46,124.50) rotate(-28)" x="-12.80" y="0" font-size="9.4" fill="#4d4d4d" textLength="12.80" lengthAdjust="spacingAndGlyphs">0.4</text>
<line x1="60.00" y1="40.02" x2="62.7" y2="40.02" stroke="#444" stroke-width="1"/>
<line x1="60.00" y1="60.66" x2="62.7" y2="60.66" stroke="#444" stroke-width="1"/>
<line x1="60.00" y1="81.30" x2="62.7" y2="81.30" stroke="#444" stroke-width="1"/>
<line x1="60.00" y1="101.94" x2="62.7" y2="101.94" stroke="#444" stroke-width="1"/>
<clipPath id="cb0"><rect x="48.20" y="168.00" width="101.20" height="113.00"/></clipPath>
<line x1="48.20" y1="183.40" x2="149.40" y2="183.40" stroke="#f6f6f6" stroke-width="0.9"/>
<line x1="48.20" y1="211.90" x2="149.40" y2="211.90" stroke="#f6f6f6" stroke-width="0.9"/>
<line x1="48.20" y1="240.60" x2="149.40" y2="240.60" stroke="#f6f6f6" stroke-width="0.9"/>
<line x1="48.20" y1="269.60" x2="149.40" y2="269.60" stroke="#f6f6f6" stroke-width="0.9"/>
<line x1="63.80" y1="168.00" x2="63.80" y2="281.00" stroke="#f6f6f6" stroke-width="0.9"/>
<line x1="87.40" y1="168.00" x2="87.40" y2="281.00" stroke="#f6f6f6" stroke-width="0.9"/>
<line x1="110.80" y1="168.00" x2="110.80" y2="281.00" stroke="#f6f6f6" stroke-width="0.9"/>
<line x1="134.20" y1="168.00" x2="134.20" y2="281.00" stroke="#f6f6f6" stroke-width="0.9"/>
<line x1="48.20" y1="169.10" x2="149.40" y2="169.10" stroke="#eeeeee" stroke-width="1"/>
<line x1="48.20" y1="197.70" x2="149.40" y2="197.70" stroke="#eeeeee" stroke-width="1"/>
<line x1="48.20" y1="226.40" x2="149.40" y2="226.40" stroke="#eeeeee" stroke-width="1"/>
<line x1="48.20" y1="254.70" x2="149.40" y2="254.70" stroke="#eeeeee" stroke-width="1"/>
<line x1="52.20" y1="168.00" x2="52.20" y2="281.00" stroke="#eeeeee" stroke-width="1"/>
<line x1="75.60" y1="168.00" x2="75.60" y2="281.00" stroke="#eeeeee" stroke-width="1"/>
<line x1="99.20" y1="168.00" x2="99.20" y2="281.00" stroke="#eeeeee" stroke-width="1"/>
<line x1="122.40" y1="168.00" x2="122.40" y2="281.00" stroke="#eeeeee" stroke-width="1"/>
<line x1="145.80" y1="168.00" x2="145.80" y2="281.00" stroke="#eeeeee" stroke-width="1"/>
<g clip-path="url(#cb0)"><g fill="#120d08" fill-opacity="0.48"><circle cx="70.0" cy="196.3" r="7.1"/><circle cx="80.0" cy="201.9" r="7.1"/><circle cx="95.6" cy="200.0" r="7.1"/><circle cx="102.3" cy="203.7" r="7.1"/><circle cx="109.0" cy="204.5" r="7.1"/><circle cx="119.5" cy="194.8" r="7.1"/><circle cx="135.1" cy="201.5" r="7.1"/><circle cx="140.3" cy="201.5" r="7.1"/><circle cx="138.1" cy="205.2" r="7.1"/><circle cx="68.8" cy="208.9" r="7.1"/><circle cx="83.7" cy="211.9" r="7.1"/><circle cx="65.9" cy="216.4" r="7.1"/><circle cx="76.3" cy="215.6" r="7.1"/><circle cx="100.1" cy="214.2" r="7.1"/><circle cx="109.8" cy="215.6" r="7.1"/><circle cx="120.2" cy="211.2" r="7.1"/><circle cx="110.5" cy="219.4" r="7.1"/><circle cx="135.8" cy="216.4" r="7.1"/><circle cx="70.3" cy="227.6" r="7.1"/><circle cx="77.0" cy="223.1" r="7.1"/><circle cx="97.1" cy="223.8" r="7.1"/><circle cx="100.9" cy="230.5" r="7.1"/><circle cx="118.0" cy="227.6" r="7.1"/><circle cx="115.0" cy="232.0" r="7.1"/><circle cx="139.6" cy="230.5" r="7.1"/><circle cx="140.3" cy="241.0" r="7.1"/><circle cx="55.4" cy="233.5" r="7.1"/><circle cx="61.4" cy="235.0" r="7.1"/><circle cx="51.0" cy="238.0" r="7.1"/><circle cx="59.9" cy="243.9" r="7.1"/><circle cx="88.2" cy="233.5" r="7.1"/><circle cx="92.7" cy="239.5" r="7.1"/><circle cx="103.1" cy="238.0" r="7.1"/><circle cx="110.5" cy="238.0" r="7.1"/><circle cx="121.0" cy="241.0" r="7.1"/><circle cx="118.0" cy="245.4" r="7.1"/><circle cx="88.2" cy="246.9" r="7.1"/><circle cx="94.2" cy="248.4" r="7.1"/><circle cx="106.8" cy="255.8" r="7.1"/><circle cx="139.6" cy="254.4" r="7.1"/><circle cx="83.7" cy="233.5" r="7.1"/><circle cx="71.8" cy="233.5" r="7.1"/><circle cx="113.5" cy="242.4" r="7.1"/><circle cx="52.6" cy="232.7" r="7.1"/><circle cx="57.1" cy="232.7" r="7.1"/><circle cx="59.4" cy="237.3" r="7.1"/><circle cx="55.6" cy="241.1" r="7.1"/><circle cx="61.0" cy="243.4" r="7.1"/><circle cx="51.0" cy="243.4" r="7.1"/><circle cx="64.0" cy="232.7" r="7.1"/><circle cx="70.9" cy="216.7" r="7.1"/><circle cx="73.2" cy="222.0" r="7.1"/><circle cx="69.3" cy="226.6" r="7.1"/><circle cx="70.9" cy="231.2" r="7.1"/><circle cx="75.4" cy="212.9" r="7.1"/><circle cx="67.1" cy="222.8" r="7.1"/><circle cx="84.6" cy="235.7" r="7.1"/><circle cx="88.4" cy="232.7" r="7.1"/><circle cx="93.0" cy="231.2" r="7.1"/><circle cx="87.6" cy="243.4" r="7.1"/><circle cx="93.0" cy="244.9" r="7.1"/><circle cx="84.6" cy="246.4" r="7.1"/></g>
<circle cx="81.1" cy="225.8" r="7.1" fill="#c42424" fill-opacity="0.93"/></g>
<line x1="48.20" y1="168.00" x2="149.40" y2="168.00" stroke="#a8a8a8" stroke-width="1.7"/>
<line x1="149.40" y1="168.00" x2="149.40" y2="281.00" stroke="#555" stroke-width="1.1"/>
<line x1="48.20" y1="167.40" x2="48.20" y2="281.00" stroke="#555" stroke-width="1.1"/>
<line x1="47.70" y1="281.00" x2="149.90" y2="281.00" stroke="#444" stroke-width="1.1"/>
<clipPath id="cb1"><rect x="153.52" y="168.00" width="101.20" height="113.00"/></clipPath>
<line x1="153.52" y1="183.40" x2="254.72" y2="183.40" stroke="#f6f6f6" stroke-width="0.9"/>
<line x1="153.52" y1="211.90" x2="254.72" y2="211.90" stroke="#f6f6f6" stroke-width="0.9"/>
<line x1="153.52" y1="240.60" x2="254.72" y2="240.60" stroke="#f6f6f6" stroke-width="0.9"/>
<line x1="153.52" y1="269.60" x2="254.72" y2="269.60" stroke="#f6f6f6" stroke-width="0.9"/>
<line x1="169.12" y1="168.00" x2="169.12" y2="281.00" stroke="#f6f6f6" stroke-width="0.9"/>
<line x1="192.72" y1="168.00" x2="192.72" y2="281.00" stroke="#f6f6f6" stroke-width="0.9"/>
<line x1="216.12" y1="168.00" x2="216.12" y2="281.00" stroke="#f6f6f6" stroke-width="0.9"/>
<line x1="239.52" y1="168.00" x2="239.52" y2="281.00" stroke="#f6f6f6" stroke-width="0.9"/>
<line x1="153.52" y1="169.10" x2="254.72" y2="169.10" stroke="#eeeeee" stroke-width="1"/>
<line x1="153.52" y1="197.70" x2="254.72" y2="197.70" stroke="#eeeeee" stroke-width="1"/>
<line x1="153.52" y1="226.40" x2="254.72" y2="226.40" stroke="#eeeeee" stroke-width="1"/>
<line x1="153.52" y1="254.70" x2="254.72" y2="254.70" stroke="#eeeeee" stroke-width="1"/>
<line x1="157.52" y1="168.00" x2="157.52" y2="281.00" stroke="#eeeeee" stroke-width="1"/>
<line x1="180.92" y1="168.00" x2="180.92" y2="281.00" stroke="#eeeeee" stroke-width="1"/>
<line x1="204.52" y1="168.00" x2="204.52" y2="281.00" stroke="#eeeeee" stroke-width="1"/>
<line x1="227.72" y1="168.00" x2="227.72" y2="281.00" stroke="#eeeeee" stroke-width="1"/>
<line x1="251.12" y1="168.00" x2="251.12" y2="281.00" stroke="#eeeeee" stroke-width="1"/>
<g clip-path="url(#cb1)"><g fill="#120d08" fill-opacity="0.48"><circle cx="197.7" cy="185.9" r="7.1"/><circle cx="191.0" cy="193.0" r="7.1"/><circle cx="173.8" cy="195.5" r="7.1"/><circle cx="205.1" cy="199.3" r="7.1"/><circle cx="211.1" cy="195.5" r="7.1"/><circle cx="216.3" cy="199.3" r="7.1"/><circle cx="158.2" cy="203.0" r="7.1"/><circle cx="178.3" cy="206.7" r="7.1"/><circle cx="175.3" cy="206.0" r="7.1"/><circle cx="167.9" cy="209.7" r="7.1"/><circle cx="166.4" cy="215.6" r="7.1"/><circle cx="175.3" cy="218.6" r="7.1"/><circle cx="171.6" cy="212.7" r="7.1"/><circle cx="211.1" cy="215.6" r="7.1"/><circle cx="218.5" cy="214.2" r="7.1"/><circle cx="209.6" cy="224.6" r="7.1"/><circle cx="220.0" cy="230.5" r="7.1"/><circle cx="170.9" cy="230.5" r="7.1"/><circle cx="233.4" cy="204.5" r="7.1"/><circle cx="240.8" cy="200.0" r="7.1"/><circle cx="244.6" cy="197.8" r="7.1"/><circle cx="245.3" cy="203.7" r="7.1"/><circle cx="249.8" cy="203.7" r="7.1"/><circle cx="241.6" cy="215.6" r="7.1"/><circle cx="240.1" cy="231.3" r="7.1"/><circle cx="161.9" cy="245.4" r="7.1"/><circle cx="170.1" cy="242.4" r="7.1"/><circle cx="182.8" cy="242.4" r="7.1"/><circle cx="185.8" cy="248.4" r="7.1"/><circle cx="194.7" cy="249.9" r="7.1"/><circle cx="196.2" cy="245.4" r="7.1"/><circle cx="203.6" cy="238.0" r="7.1"/><circle cx="206.6" cy="241.0" r="7.1"/><circle cx="205.1" cy="245.4" r="7.1"/><circle cx="215.5" cy="238.0" r="7.1"/><circle cx="220.0" cy="241.0" r="7.1"/><circle cx="223.0" cy="245.4" r="7.1"/><circle cx="231.9" cy="241.0" r="7.1"/><circle cx="233.4" cy="244.7" r="7.1"/><circle cx="212.6" cy="255.8" r="7.1"/><circle cx="212.6" cy="258.8" r="7.1"/><circle cx="243.8" cy="249.1" r="7.1"/><circle cx="249.8" cy="255.8" r="7.1"/><circle cx="202.1" cy="233.5" r="7.1"/><circle cx="181.3" cy="245.4" r="7.1"/><circle cx="159.0" cy="203.7" r="7.1"/><circle cx="240.8" cy="214.2" r="7.1"/><circle cx="205.1" cy="241.0" r="7.1"/><circle cx="218.5" cy="241.0" r="7.1"/><circle cx="209.6" cy="238.0" r="7.1"/><circle cx="182.8" cy="243.9" r="7.1"/><circle cx="212.6" cy="255.8" r="7.1"/><circle cx="170.9" cy="212.7" r="7.1"/></g>
<circle cx="160.0" cy="255.8" r="7.1" fill="#c42424" fill-opacity="0.93"/></g>
<line x1="153.52" y1="168.00" x2="254.72" y2="168.00" stroke="#a8a8a8" stroke-width="1.7"/>
<line x1="254.72" y1="168.00" x2="254.72" y2="281.00" stroke="#555" stroke-width="1.1"/>
<line x1="153.52" y1="167.40" x2="153.52" y2="281.00" stroke="#555" stroke-width="1.1"/>
<line x1="153.02" y1="281.00" x2="255.22" y2="281.00" stroke="#444" stroke-width="1.1"/>
<clipPath id="cb2"><rect x="258.84" y="168.00" width="101.20" height="113.00"/></clipPath>
<line x1="258.84" y1="183.40" x2="360.04" y2="183.40" stroke="#f6f6f6" stroke-width="0.9"/>
<line x1="258.84" y1="211.90" x2="360.04" y2="211.90" stroke="#f6f6f6" stroke-width="0.9"/>
<line x1="258.84" y1="240.60" x2="360.04" y2="240.60" stroke="#f6f6f6" stroke-width="0.9"/>
<line x1="258.84" y1="269.60" x2="360.04" y2="269.60" stroke="#f6f6f6" stroke-width="0.9"/>
<line x1="274.44" y1="168.00" x2="274.44" y2="281.00" stroke="#f6f6f6" stroke-width="0.9"/>
<line x1="298.04" y1="168.00" x2="298.04" y2="281.00" stroke="#f6f6f6" stroke-width="0.9"/>
<line x1="321.44" y1="168.00" x2="321.44" y2="281.00" stroke="#f6f6f6" stroke-width="0.9"/>
<line x1="344.84" y1="168.00" x2="344.84" y2="281.00" stroke="#f6f6f6" stroke-width="0.9"/>
<line x1="258.84" y1="169.10" x2="360.04" y2="169.10" stroke="#eeeeee" stroke-width="1"/>
<line x1="258.84" y1="197.70" x2="360.04" y2="197.70" stroke="#eeeeee" stroke-width="1"/>
<line x1="258.84" y1="226.40" x2="360.04" y2="226.40" stroke="#eeeeee" stroke-width="1"/>
<line x1="258.84" y1="254.70" x2="360.04" y2="254.70" stroke="#eeeeee" stroke-width="1"/>
<line x1="262.84" y1="168.00" x2="262.84" y2="281.00" stroke="#eeeeee" stroke-width="1"/>
<line x1="286.24" y1="168.00" x2="286.24" y2="281.00" stroke="#eeeeee" stroke-width="1"/>
<line x1="309.84" y1="168.00" x2="309.84" y2="281.00" stroke="#eeeeee" stroke-width="1"/>
<line x1="333.04" y1="168.00" x2="333.04" y2="281.00" stroke="#eeeeee" stroke-width="1"/>
<line x1="356.44" y1="168.00" x2="356.44" y2="281.00" stroke="#eeeeee" stroke-width="1"/>
<g clip-path="url(#cb2)"><g fill="#120d08" fill-opacity="0.48"><circle cx="322.0" cy="181.1" r="7.1"/><circle cx="348.8" cy="183.6" r="7.1"/><circle cx="346.6" cy="189.6" r="7.1"/><circle cx="346.6" cy="194.8" r="7.1"/><circle cx="278.1" cy="192.6" r="7.1"/><circle cx="298.9" cy="190.3" r="7.1"/><circle cx="296.0" cy="195.5" r="7.1"/><circle cx="302.7" cy="192.6" r="7.1"/><circle cx="308.6" cy="198.5" r="7.1"/><circle cx="302.7" cy="202.2" r="7.1"/><circle cx="292.2" cy="203.7" r="7.1"/><circle cx="311.6" cy="209.7" r="7.1"/><circle cx="312.3" cy="208.2" r="7.1"/><circle cx="321.3" cy="200.8" r="7.1"/><circle cx="328.0" cy="200.0" r="7.1"/><circle cx="332.4" cy="194.8" r="7.1"/><circle cx="333.2" cy="200.0" r="7.1"/><circle cx="266.9" cy="205.2" r="7.1"/><circle cx="268.4" cy="202.2" r="7.1"/><circle cx="275.1" cy="203.7" r="7.1"/><circle cx="280.3" cy="208.9" r="7.1"/><circle cx="259.5" cy="206.0" r="7.1"/><circle cx="354.0" cy="210.4" r="7.1"/><circle cx="348.1" cy="217.1" r="7.1"/><circle cx="265.4" cy="230.5" r="7.1"/><circle cx="266.2" cy="235.7" r="7.1"/><circle cx="273.6" cy="235.0" r="7.1"/><circle cx="264.7" cy="246.2" r="7.1"/><circle cx="300.4" cy="238.0" r="7.1"/><circle cx="301.9" cy="243.9" r="7.1"/><circle cx="275.9" cy="252.9" r="7.1"/><circle cx="272.9" cy="255.1" r="7.1"/><circle cx="269.9" cy="259.6" r="7.1"/><circle cx="293.0" cy="253.6" r="7.1"/><circle cx="295.2" cy="254.4" r="7.1"/><circle cx="298.9" cy="254.4" r="7.1"/><circle cx="307.9" cy="252.9" r="7.1"/><circle cx="309.4" cy="257.3" r="7.1"/><circle cx="311.6" cy="263.3" r="7.1"/><circle cx="307.1" cy="269.3" r="7.1"/><circle cx="320.5" cy="242.4" r="7.1"/><circle cx="320.5" cy="246.9" r="7.1"/><circle cx="326.5" cy="251.4" r="7.1"/><circle cx="325.0" cy="264.8" r="7.1"/><circle cx="338.4" cy="252.9" r="7.1"/><circle cx="342.9" cy="239.5" r="7.1"/><circle cx="347.3" cy="236.5" r="7.1"/><circle cx="347.3" cy="249.1" r="7.1"/><circle cx="336.9" cy="248.4" r="7.1"/><circle cx="266.9" cy="205.2" r="7.1"/><circle cx="295.2" cy="253.6" r="7.1"/><circle cx="311.6" cy="263.3" r="7.1"/><circle cx="338.4" cy="251.4" r="7.1"/><circle cx="302.7" cy="194.8" r="7.1"/><circle cx="332.4" cy="197.8" r="7.1"/><circle cx="269.9" cy="233.5" r="7.1"/></g>
<circle cx="339.9" cy="258.5" r="7.1" fill="#c42424" fill-opacity="0.93"/></g>
<line x1="258.84" y1="168.00" x2="360.04" y2="168.00" stroke="#a8a8a8" stroke-width="1.7"/>
<line x1="360.04" y1="168.00" x2="360.04" y2="281.00" stroke="#555" stroke-width="1.1"/>
<line x1="258.84" y1="167.40" x2="258.84" y2="281.00" stroke="#555" stroke-width="1.1"/>
<line x1="258.34" y1="281.00" x2="360.54" y2="281.00" stroke="#444" stroke-width="1.1"/>
<clipPath id="cb3"><rect x="364.16" y="168.00" width="101.20" height="113.00"/></clipPath>
<line x1="364.16" y1="183.40" x2="465.36" y2="183.40" stroke="#f6f6f6" stroke-width="0.9"/>
<line x1="364.16" y1="211.90" x2="465.36" y2="211.90" stroke="#f6f6f6" stroke-width="0.9"/>
<line x1="364.16" y1="240.60" x2="465.36" y2="240.60" stroke="#f6f6f6" stroke-width="0.9"/>
<line x1="364.16" y1="269.60" x2="465.36" y2="269.60" stroke="#f6f6f6" stroke-width="0.9"/>
<line x1="379.76" y1="168.00" x2="379.76" y2="281.00" stroke="#f6f6f6" stroke-width="0.9"/>
<line x1="403.36" y1="168.00" x2="403.36" y2="281.00" stroke="#f6f6f6" stroke-width="0.9"/>
<line x1="426.76" y1="168.00" x2="426.76" y2="281.00" stroke="#f6f6f6" stroke-width="0.9"/>
<line x1="450.16" y1="168.00" x2="450.16" y2="281.00" stroke="#f6f6f6" stroke-width="0.9"/>
<line x1="364.16" y1="169.10" x2="465.36" y2="169.10" stroke="#eeeeee" stroke-width="1"/>
<line x1="364.16" y1="197.70" x2="465.36" y2="197.70" stroke="#eeeeee" stroke-width="1"/>
<line x1="364.16" y1="226.40" x2="465.36" y2="226.40" stroke="#eeeeee" stroke-width="1"/>
<line x1="364.16" y1="254.70" x2="465.36" y2="254.70" stroke="#eeeeee" stroke-width="1"/>
<line x1="368.16" y1="168.00" x2="368.16" y2="281.00" stroke="#eeeeee" stroke-width="1"/>
<line x1="391.56" y1="168.00" x2="391.56" y2="281.00" stroke="#eeeeee" stroke-width="1"/>
<line x1="415.16" y1="168.00" x2="415.16" y2="281.00" stroke="#eeeeee" stroke-width="1"/>
<line x1="438.36" y1="168.00" x2="438.36" y2="281.00" stroke="#eeeeee" stroke-width="1"/>
<line x1="461.76" y1="168.00" x2="461.76" y2="281.00" stroke="#eeeeee" stroke-width="1"/>
<g clip-path="url(#cb3)"><g fill="#120d08" fill-opacity="0.48"><circle cx="370.0" cy="183.6" r="7.1"/><circle cx="381.1" cy="180.7" r="7.1"/><circle cx="375.9" cy="191.1" r="7.1"/><circle cx="381.9" cy="186.6" r="7.1"/><circle cx="390.8" cy="192.6" r="7.1"/><circle cx="383.4" cy="197.8" r="7.1"/><circle cx="390.8" cy="198.5" r="7.1"/><circle cx="384.1" cy="206.7" r="7.1"/><circle cx="416.9" cy="176.9" r="7.1"/><circle cx="404.9" cy="185.9" r="7.1"/><circle cx="411.6" cy="185.9" r="7.1"/><circle cx="426.5" cy="182.9" r="7.1"/><circle cx="435.5" cy="185.1" r="7.1"/><circle cx="419.8" cy="194.8" r="7.1"/><circle cx="425.8" cy="192.6" r="7.1"/><circle cx="431.0" cy="199.3" r="7.1"/><circle cx="436.2" cy="194.1" r="7.1"/><circle cx="408.7" cy="203.7" r="7.1"/><circle cx="454.1" cy="176.2" r="7.1"/><circle cx="450.4" cy="190.3" r="7.1"/><circle cx="460.0" cy="190.0" r="7.1"/><circle cx="445.9" cy="208.9" r="7.1"/><circle cx="384.1" cy="240.2" r="7.1"/><circle cx="406.4" cy="234.3" r="7.1"/><circle cx="407.9" cy="238.0" r="7.1"/><circle cx="381.1" cy="251.4" r="7.1"/><circle cx="389.3" cy="258.8" r="7.1"/><circle cx="393.8" cy="264.8" r="7.1"/><circle cx="376.7" cy="267.8" r="7.1"/><circle cx="401.2" cy="270.7" r="7.1"/><circle cx="403.5" cy="266.3" r="7.1"/><circle cx="411.6" cy="267.8" r="7.1"/><circle cx="420.6" cy="267.8" r="7.1"/><circle cx="422.1" cy="257.3" r="7.1"/><circle cx="428.0" cy="255.8" r="7.1"/><circle cx="430.3" cy="261.8" r="7.1"/><circle cx="426.5" cy="243.9" r="7.1"/><circle cx="432.5" cy="233.5" r="7.1"/><circle cx="434.0" cy="236.5" r="7.1"/><circle cx="440.7" cy="241.0" r="7.1"/><circle cx="450.4" cy="240.2" r="7.1"/><circle cx="453.3" cy="232.0" r="7.1"/><circle cx="442.2" cy="261.1" r="7.1"/><circle cx="444.4" cy="264.8" r="7.1"/><circle cx="451.8" cy="260.3" r="7.1"/><circle cx="459.3" cy="269.3" r="7.1"/><circle cx="460.8" cy="254.4" r="7.1"/><circle cx="437.7" cy="263.3" r="7.1"/><circle cx="393.0" cy="263.3" r="7.1"/><circle cx="428.0" cy="258.8" r="7.1"/><circle cx="434.0" cy="235.0" r="7.1"/><circle cx="429.5" cy="197.8" r="7.1"/><circle cx="380.4" cy="187.4" r="7.1"/><circle cx="408.7" cy="185.9" r="7.1"/></g>
<circle cx="389.3" cy="269.0" r="7.1" fill="#c42424" fill-opacity="0.93"/></g>
<line x1="364.16" y1="168.00" x2="465.36" y2="168.00" stroke="#a8a8a8" stroke-width="1.7"/>
<line x1="465.36" y1="168.00" x2="465.36" y2="281.00" stroke="#555" stroke-width="1.1"/>
<line x1="364.16" y1="167.40" x2="364.16" y2="281.00" stroke="#555" stroke-width="1.1"/>
<line x1="363.66" y1="281.00" x2="465.86" y2="281.00" stroke="#444" stroke-width="1.1"/>
<clipPath id="cb4"><rect x="469.48" y="168.00" width="101.20" height="113.00"/></clipPath>
<line x1="469.48" y1="183.40" x2="570.68" y2="183.40" stroke="#f6f6f6" stroke-width="0.9"/>
<line x1="469.48" y1="211.90" x2="570.68" y2="211.90" stroke="#f6f6f6" stroke-width="0.9"/>
<line x1="469.48" y1="240.60" x2="570.68" y2="240.60" stroke="#f6f6f6" stroke-width="0.9"/>
<line x1="469.48" y1="269.60" x2="570.68" y2="269.60" stroke="#f6f6f6" stroke-width="0.9"/>
<line x1="485.08" y1="168.00" x2="485.08" y2="281.00" stroke="#f6f6f6" stroke-width="0.9"/>
<line x1="508.68" y1="168.00" x2="508.68" y2="281.00" stroke="#f6f6f6" stroke-width="0.9"/>
<line x1="532.08" y1="168.00" x2="532.08" y2="281.00" stroke="#f6f6f6" stroke-width="0.9"/>
<line x1="555.48" y1="168.00" x2="555.48" y2="281.00" stroke="#f6f6f6" stroke-width="0.9"/>
<line x1="469.48" y1="169.10" x2="570.68" y2="169.10" stroke="#eeeeee" stroke-width="1"/>
<line x1="469.48" y1="197.70" x2="570.68" y2="197.70" stroke="#eeeeee" stroke-width="1"/>
<line x1="469.48" y1="226.40" x2="570.68" y2="226.40" stroke="#eeeeee" stroke-width="1"/>
<line x1="469.48" y1="254.70" x2="570.68" y2="254.70" stroke="#eeeeee" stroke-width="1"/>
<line x1="473.48" y1="168.00" x2="473.48" y2="281.00" stroke="#eeeeee" stroke-width="1"/>
<line x1="496.88" y1="168.00" x2="496.88" y2="281.00" stroke="#eeeeee" stroke-width="1"/>
<line x1="520.48" y1="168.00" x2="520.48" y2="281.00" stroke="#eeeeee" stroke-width="1"/>
<line x1="543.68" y1="168.00" x2="543.68" y2="281.00" stroke="#eeeeee" stroke-width="1"/>
<line x1="567.08" y1="168.00" x2="567.08" y2="281.00" stroke="#eeeeee" stroke-width="1"/>
<g clip-path="url(#cb4)"><g fill="#120d08" fill-opacity="0.48"><circle cx="474.2" cy="185.1" r="7.1"/><circle cx="480.9" cy="187.4" r="7.1"/><circle cx="485.4" cy="188.1" r="7.1"/><circle cx="483.1" cy="192.6" r="7.1"/><circle cx="481.7" cy="197.0" r="7.1"/><circle cx="494.3" cy="194.8" r="7.1"/><circle cx="495.1" cy="197.0" r="7.1"/><circle cx="504.0" cy="179.9" r="7.1"/><circle cx="509.9" cy="191.1" r="7.1"/><circle cx="515.9" cy="192.6" r="7.1"/><circle cx="507.7" cy="200.8" r="7.1"/><circle cx="525.6" cy="183.6" r="7.1"/><circle cx="530.0" cy="187.4" r="7.1"/><circle cx="528.6" cy="200.0" r="7.1"/><circle cx="533.8" cy="200.8" r="7.1"/><circle cx="539.0" cy="181.4" r="7.1"/><circle cx="540.5" cy="188.8" r="7.1"/><circle cx="542.7" cy="195.5" r="7.1"/><circle cx="547.9" cy="182.1" r="7.1"/><circle cx="554.6" cy="182.9" r="7.1"/><circle cx="559.1" cy="187.4" r="7.1"/><circle cx="560.6" cy="198.5" r="7.1"/><circle cx="547.9" cy="208.9" r="7.1"/><circle cx="477.2" cy="210.4" r="7.1"/><circle cx="488.4" cy="210.4" r="7.1"/><circle cx="477.9" cy="249.1" r="7.1"/><circle cx="477.9" cy="263.3" r="7.1"/><circle cx="488.4" cy="266.3" r="7.1"/><circle cx="498.8" cy="257.3" r="7.1"/><circle cx="501.8" cy="257.3" r="7.1"/><circle cx="516.6" cy="247.7" r="7.1"/><circle cx="528.6" cy="248.4" r="7.1"/><circle cx="524.1" cy="261.8" r="7.1"/><circle cx="524.1" cy="264.8" r="7.1"/><circle cx="528.6" cy="258.8" r="7.1"/><circle cx="534.5" cy="257.3" r="7.1"/><circle cx="539.0" cy="258.8" r="7.1"/><circle cx="540.5" cy="266.3" r="7.1"/><circle cx="547.9" cy="238.7" r="7.1"/><circle cx="547.9" cy="247.7" r="7.1"/><circle cx="553.9" cy="248.4" r="7.1"/><circle cx="558.3" cy="251.4" r="7.1"/><circle cx="562.8" cy="255.8" r="7.1"/><circle cx="558.3" cy="261.8" r="7.1"/><circle cx="552.4" cy="267.8" r="7.1"/><circle cx="555.4" cy="266.3" r="7.1"/><circle cx="567.3" cy="257.3" r="7.1"/><circle cx="561.3" cy="267.8" r="7.1"/><circle cx="544.2" cy="257.3" r="7.1"/><circle cx="488.4" cy="265.5" r="7.1"/><circle cx="524.8" cy="261.1" r="7.1"/><circle cx="554.6" cy="266.3" r="7.1"/><circle cx="550.9" cy="248.4" r="7.1"/><circle cx="494.3" cy="196.3" r="7.1"/><circle cx="482.4" cy="190.3" r="7.1"/></g>
<circle cx="540.0" cy="273.0" r="7.1" fill="#c42424" fill-opacity="0.93"/></g>
<line x1="469.48" y1="168.00" x2="570.68" y2="168.00" stroke="#a8a8a8" stroke-width="1.7"/>
<line x1="570.68" y1="168.00" x2="570.68" y2="281.00" stroke="#555" stroke-width="1.1"/>
<line x1="469.48" y1="167.40" x2="469.48" y2="281.00" stroke="#555" stroke-width="1.1"/>
<line x1="468.98" y1="281.00" x2="571.18" y2="281.00" stroke="#444" stroke-width="1.1"/>
<clipPath id="cb5"><rect x="574.80" y="168.00" width="101.20" height="113.00"/></clipPath>
<line x1="574.80" y1="183.40" x2="676.00" y2="183.40" stroke="#f6f6f6" stroke-width="0.9"/>
<line x1="574.80" y1="211.90" x2="676.00" y2="211.90" stroke="#f6f6f6" stroke-width="0.9"/>
<line x1="574.80" y1="240.60" x2="676.00" y2="240.60" stroke="#f6f6f6" stroke-width="0.9"/>
<line x1="574.80" y1="269.60" x2="676.00" y2="269.60" stroke="#f6f6f6" stroke-width="0.9"/>
<line x1="590.40" y1="168.00" x2="590.40" y2="281.00" stroke="#f6f6f6" stroke-width="0.9"/>
<line x1="614.00" y1="168.00" x2="614.00" y2="281.00" stroke="#f6f6f6" stroke-width="0.9"/>
<line x1="637.40" y1="168.00" x2="637.40" y2="281.00" stroke="#f6f6f6" stroke-width="0.9"/>
<line x1="660.80" y1="168.00" x2="660.80" y2="281.00" stroke="#f6f6f6" stroke-width="0.9"/>
<line x1="574.80" y1="169.10" x2="676.00" y2="169.10" stroke="#eeeeee" stroke-width="1"/>
<line x1="574.80" y1="197.70" x2="676.00" y2="197.70" stroke="#eeeeee" stroke-width="1"/>
<line x1="574.80" y1="226.40" x2="676.00" y2="226.40" stroke="#eeeeee" stroke-width="1"/>
<line x1="574.80" y1="254.70" x2="676.00" y2="254.70" stroke="#eeeeee" stroke-width="1"/>
<line x1="578.80" y1="168.00" x2="578.80" y2="281.00" stroke="#eeeeee" stroke-width="1"/>
<line x1="602.20" y1="168.00" x2="602.20" y2="281.00" stroke="#eeeeee" stroke-width="1"/>
<line x1="625.80" y1="168.00" x2="625.80" y2="281.00" stroke="#eeeeee" stroke-width="1"/>
<line x1="649.00" y1="168.00" x2="649.00" y2="281.00" stroke="#eeeeee" stroke-width="1"/>
<line x1="672.40" y1="168.00" x2="672.40" y2="281.00" stroke="#eeeeee" stroke-width="1"/>
<g clip-path="url(#cb5)"><g fill="#120d08" fill-opacity="0.48"><circle cx="586.9" cy="179.9" r="7.1"/><circle cx="593.6" cy="179.9" r="7.1"/><circle cx="588.4" cy="187.4" r="7.1"/><circle cx="581.0" cy="185.9" r="7.1"/><circle cx="581.0" cy="195.5" r="7.1"/><circle cx="610.7" cy="184.4" r="7.1"/><circle cx="610.0" cy="186.6" r="7.1"/><circle cx="609.2" cy="194.1" r="7.1"/><circle cx="617.4" cy="199.3" r="7.1"/><circle cx="625.6" cy="185.1" r="7.1"/><circle cx="627.1" cy="172.5" r="7.1"/><circle cx="650.9" cy="179.2" r="7.1"/><circle cx="662.1" cy="175.4" r="7.1"/><circle cx="668.8" cy="180.7" r="7.1"/><circle cx="650.9" cy="191.8" r="7.1"/><circle cx="651.7" cy="194.8" r="7.1"/><circle cx="653.9" cy="203.0" r="7.1"/><circle cx="637.5" cy="208.2" r="7.1"/><circle cx="623.4" cy="213.4" r="7.1"/><circle cx="582.4" cy="217.9" r="7.1"/><circle cx="583.9" cy="249.1" r="7.1"/><circle cx="579.5" cy="252.1" r="7.1"/><circle cx="581.7" cy="257.3" r="7.1"/><circle cx="581.7" cy="263.3" r="7.1"/><circle cx="578.0" cy="258.8" r="7.1"/><circle cx="618.2" cy="245.4" r="7.1"/><circle cx="610.0" cy="252.9" r="7.1"/><circle cx="604.0" cy="261.1" r="7.1"/><circle cx="607.0" cy="266.3" r="7.1"/><circle cx="615.2" cy="257.3" r="7.1"/><circle cx="618.2" cy="258.8" r="7.1"/><circle cx="618.9" cy="264.8" r="7.1"/><circle cx="636.8" cy="264.0" r="7.1"/><circle cx="652.4" cy="258.8" r="7.1"/><circle cx="652.4" cy="266.3" r="7.1"/><circle cx="658.4" cy="264.8" r="7.1"/><circle cx="664.3" cy="257.3" r="7.1"/><circle cx="667.3" cy="258.8" r="7.1"/><circle cx="671.8" cy="257.3" r="7.1"/><circle cx="664.3" cy="272.2" r="7.1"/><circle cx="670.3" cy="273.7" r="7.1"/><circle cx="671.8" cy="267.8" r="7.1"/><circle cx="581.0" cy="255.8" r="7.1"/><circle cx="615.2" cy="258.1" r="7.1"/><circle cx="665.8" cy="257.3" r="7.1"/><circle cx="661.4" cy="263.3" r="7.1"/><circle cx="588.4" cy="185.9" r="7.1"/></g>
<circle cx="609.5" cy="276.0" r="7.1" fill="#c42424" fill-opacity="0.93"/></g>
<line x1="574.80" y1="168.00" x2="676.00" y2="168.00" stroke="#a8a8a8" stroke-width="1.7"/>
<line x1="676.00" y1="168.00" x2="676.00" y2="281.00" stroke="#555" stroke-width="1.1"/>
<line x1="574.80" y1="167.40" x2="574.80" y2="281.00" stroke="#555" stroke-width="1.1"/>
<line x1="574.30" y1="281.00" x2="676.50" y2="281.00" stroke="#444" stroke-width="1.1"/>
<line x1="43.8" y1="169.10" x2="48.2" y2="169.10" stroke="#444" stroke-width="1"/>
<line x1="43.8" y1="197.70" x2="48.2" y2="197.70" stroke="#444" stroke-width="1"/>
<line x1="43.8" y1="226.40" x2="48.2" y2="226.40" stroke="#444" stroke-width="1"/>
<line x1="43.8" y1="254.70" x2="48.2" y2="254.70" stroke="#444" stroke-width="1"/>
<line x1="43.8" y1="280.60" x2="48.2" y2="280.60" stroke="#444" stroke-width="1"/></svg></body></html>
